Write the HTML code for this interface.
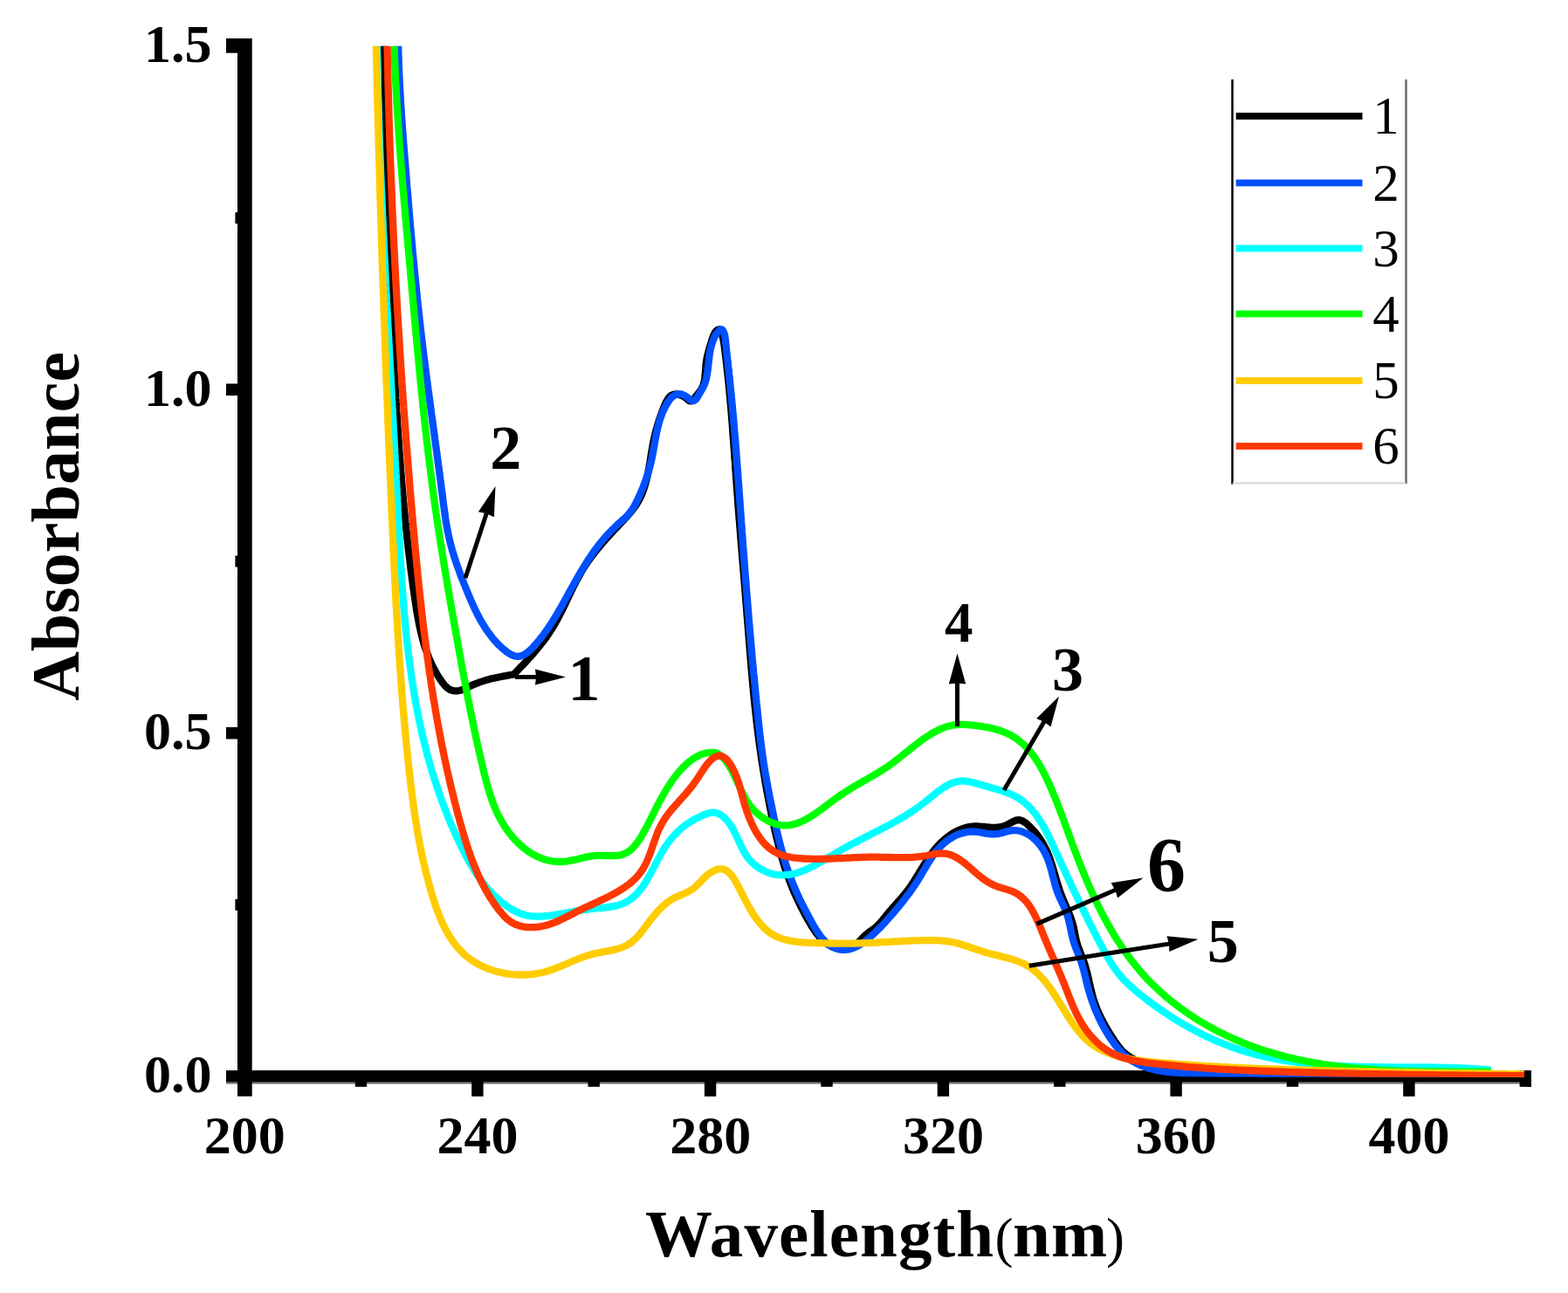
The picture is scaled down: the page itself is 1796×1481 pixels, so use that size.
<!DOCTYPE html>
<html><head><meta charset="utf-8"><title>Absorbance vs Wavelength</title>
<style>html,body{margin:0;padding:0;background:#fff;} svg{display:block;}</style>
</head><body>
<svg width="1796" height="1481" viewBox="0 0 1796 1481">
<defs><clipPath id="pc"><rect x="289" y="52.8" width="1470" height="1180.9"/></clipPath></defs>
<rect x="0" y="0" width="1796" height="1481" fill="#fff"/>
<rect x="259" y="1239.4" width="1487" height="2.1" fill="#766a78"/>
<rect x="272" y="44" width="16.7" height="1211.7" fill="#000"/>
<rect x="259" y="1226" width="1495" height="13.5" fill="#000"/>
<rect x="259" y="46.2" width="14" height="13.6" fill="#000"/>
<rect x="259" y="439.5" width="14" height="13.6" fill="#000"/>
<rect x="259" y="832.9" width="14" height="13.6" fill="#000"/>
<rect x="259" y="44" width="14" height="16.7" fill="#000"/>
<rect x="269.4" y="243.2" width="3" height="13" fill="#000"/>
<rect x="269.4" y="636.5" width="3" height="13" fill="#000"/>
<rect x="269.4" y="1029.8" width="3" height="13" fill="#000"/>
<rect x="540.2" y="1239" width="13.4" height="16.8" fill="#000"/>
<rect x="806.9" y="1239" width="13.4" height="16.8" fill="#000"/>
<rect x="1073.7" y="1239" width="13.4" height="16.8" fill="#000"/>
<rect x="1340.4" y="1239" width="13.4" height="16.8" fill="#000"/>
<rect x="1607.2" y="1239" width="13.4" height="16.8" fill="#000"/>
<rect x="406.8" y="1239" width="13.4" height="5.8" fill="#000"/>
<rect x="673.5" y="1239" width="13.4" height="5.8" fill="#000"/>
<rect x="940.3" y="1239" width="13.4" height="5.8" fill="#000"/>
<rect x="1207.1" y="1239" width="13.4" height="5.8" fill="#000"/>
<rect x="1473.8" y="1239" width="13.4" height="5.8" fill="#000"/>
<rect x="1740.6" y="1239" width="13.4" height="5.8" fill="#000"/>
<rect x="1746" y="1226" width="8" height="18.7" fill="#000"/>
<g clip-path="url(#pc)" fill="none" stroke-linejoin="round" stroke-linecap="butt">
<path d="M439.8,40.0L439.8,42.5L439.9,45.0L439.9,47.5L440.0,50.0L440.0,52.4L440.1,54.9L440.1,57.4L440.2,59.9L440.2,62.4L440.3,64.9L440.3,67.4L440.4,69.9L440.4,72.4L440.5,74.9L440.5,77.4L440.6,79.9L440.6,82.4L440.7,84.9L440.7,87.4L440.8,89.9L440.8,92.3L440.8,94.8L440.9,97.3L440.9,99.8L441.0,102.3L441.0,104.8L441.1,107.3L441.1,109.8L441.2,112.3L441.3,114.8L441.3,117.3L441.4,119.8L441.4,122.3L441.5,124.8L441.5,127.2L441.6,129.7L441.6,132.2L441.7,134.7L441.7,137.2L441.8,139.7L441.8,142.2L441.9,144.7L441.9,147.2L442.0,149.7L442.0,152.2L442.1,154.7L442.2,157.2L442.2,159.7L442.3,162.1L442.3,164.6L442.4,167.1L442.4,169.6L442.5,172.1L442.6,174.6L442.6,177.1L442.7,179.6L442.7,182.1L442.8,184.6L442.9,187.1L442.9,189.6L443.0,192.0L443.0,194.5L443.1,197.0L443.2,199.5L443.2,202.0L443.3,204.5L443.4,207.0L443.4,209.5L443.5,212.0L443.6,214.5L443.6,217.0L443.7,219.5L443.8,221.9L443.8,224.4L443.9,226.9L444.0,229.4L444.0,231.9L444.1,234.4L444.2,236.9L444.2,239.4L444.3,241.9L444.4,244.4L444.5,246.9L444.5,249.4L444.6,251.8L444.7,254.3L444.8,256.8L444.8,259.3L444.9,261.8L445.0,264.3L445.1,266.8L445.1,269.3L445.2,271.8L445.3,274.3L445.4,276.8L445.5,279.2L445.5,281.7L445.6,284.2L445.7,286.7L445.8,289.2L445.9,291.7L446.0,294.2L446.1,296.7L446.1,299.2L446.2,301.7L446.3,304.2L446.4,306.6L446.5,309.1L446.6,311.6L446.7,314.1L446.8,316.6L446.9,319.1L447.0,321.6L447.1,324.1L447.1,326.6L447.2,329.1L447.3,331.5L447.4,334.0L447.5,336.5L447.6,339.0L447.7,341.5L447.8,344.0L447.9,346.5L448.0,349.0L448.1,351.5L448.3,354.0L448.4,356.4L448.5,358.9L448.6,361.4L448.7,363.9L448.8,366.4L448.9,368.9L449.0,371.4L449.1,373.9L449.2,376.4L449.4,378.9L449.5,381.3L449.6,383.8L449.7,386.3L449.8,388.8L449.9,391.3L450.1,393.8L450.2,396.3L450.3,398.8L450.4,401.3L450.6,403.8L450.7,406.2L450.8,408.7L450.9,411.2L451.1,413.7L451.2,416.2L451.3,418.7L451.5,421.2L451.6,423.7L451.7,426.2L451.9,428.7L452.0,431.1L452.1,433.6L452.3,436.1L452.4,438.6L452.5,441.1L452.7,443.6L452.8,446.1L453.0,448.6L453.1,451.1L453.3,453.5L453.4,456.0L453.6,458.5L453.7,461.0L453.9,463.5L454.0,466.0L454.2,468.5L454.3,471.0L454.5,473.5L454.6,475.9L454.8,478.4L455.0,480.9L455.1,483.4L455.3,485.9L455.4,488.4L455.6,490.9L455.8,493.4L455.9,495.9L456.1,498.4L456.3,500.8L456.5,503.3L456.6,505.8L456.8,508.3L457.0,510.8L457.2,513.3L457.3,515.8L457.5,518.3L457.7,520.7L457.9,523.2L458.1,525.7L458.3,528.2L458.5,530.7L458.7,533.2L458.9,535.7L459.1,538.2L459.2,540.6L459.5,543.1L459.7,545.6L459.9,548.1L460.1,550.6L460.3,553.1L460.5,555.6L460.7,558.0L460.9,560.5L461.1,563.0L461.4,565.5L461.6,568.0L461.8,570.5L462.0,572.9L462.3,575.4L462.5,577.9L462.7,580.4L463.0,582.9L463.2,585.3L463.4,587.8L463.7,590.3L463.9,592.8L464.2,595.3L464.4,597.7L464.7,600.2L464.9,602.7L465.2,605.2L465.5,607.7L465.7,610.1L466.0,612.6L466.2,615.1L466.5,617.6L466.8,620.0L467.1,622.5L467.4,625.0L467.6,627.5L467.9,629.9L468.2,632.4L468.5,634.9L468.8,637.4L469.1,639.8L469.4,642.3L469.7,644.8L470.0,647.3L470.3,649.7L470.6,652.2L470.9,654.7L471.3,657.1L471.6,659.6L471.9,662.1L472.2,664.5L472.6,667.0L472.9,669.5L473.2,671.9L473.6,674.4L473.9,676.9L474.3,679.3L474.6,681.8L475.0,684.2L475.3,686.7L475.7,689.2L476.1,691.6L476.4,694.1L476.8,696.5L477.2,699.0L477.6,701.5L478.0,703.9L478.5,706.4L478.9,708.8L479.4,711.2L479.8,713.7L480.3,716.1L480.8,718.5L481.4,721.0L481.9,723.4L482.5,725.8L483.1,728.2L483.7,730.6L484.4,733.0L485.0,735.4L485.7,737.8L486.5,740.2L487.2,742.6L488.1,744.9L488.9,747.3L489.8,749.6L490.7,752.0L491.6,754.3L492.6,756.6L493.6,758.9L494.7,761.3L495.8,763.5L497.0,765.8L498.2,768.1L499.4,770.3L500.7,772.5L502.0,774.7L503.4,776.8L504.8,778.9L506.3,781.0L507.8,783.0L509.4,785.0L511.1,786.8L512.9,788.3L514.8,789.6L516.8,790.5L519.0,791.1L521.2,791.4L523.5,791.3L525.8,791.0L528.2,790.5L530.6,789.6L533.0,788.6L535.3,787.5L537.7,786.3L540.0,785.2L542.4,784.2L544.7,783.2L547.1,782.3L549.4,781.4L551.8,780.6L554.1,779.9L556.5,779.1L558.8,778.5L561.2,777.8L563.5,777.2L565.9,776.7L568.3,776.2L570.7,775.7L573.1,775.2L575.6,774.7L578.0,774.3L580.5,773.9L583.0,773.4L585.5,773.0L588.0,772.6L588.2,772.6L589.9,770.9L591.7,769.1L593.4,767.3L595.1,765.5L596.8,763.7L598.6,761.9L600.3,760.1L602.0,758.3L603.7,756.5L605.4,754.6L607.0,752.8L608.7,750.9L610.4,749.0L612.0,747.1L613.6,745.2L615.2,743.3L616.8,741.4L618.4,739.4L619.9,737.5L621.5,735.5L623.0,733.5L624.5,731.5L625.9,729.5L627.4,727.4L628.8,725.4L630.1,723.3L631.5,721.2L632.8,719.1L634.1,716.9L635.4,714.8L636.6,712.6L637.8,710.4L639.0,708.2L640.2,706.0L641.3,703.8L642.5,701.6L643.6,699.4L644.7,697.1L645.8,694.9L646.9,692.6L648.0,690.4L649.0,688.1L650.1,685.8L651.2,683.6L652.3,681.3L653.4,679.1L654.4,676.8L655.5,674.6L656.6,672.3L657.8,670.1L658.9,667.8L660.0,665.6L661.2,663.4L662.4,661.2L663.6,659.1L664.8,656.9L666.0,654.7L667.3,652.6L668.6,650.5L670.0,648.4L671.3,646.3L672.7,644.3L674.1,642.2L675.6,640.2L677.0,638.2L678.5,636.2L680.0,634.2L681.5,632.3L683.1,630.3L684.7,628.4L686.3,626.5L687.9,624.6L689.5,622.6L691.1,620.8L692.8,618.9L694.4,617.0L696.1,615.1L697.8,613.3L699.5,611.4L701.2,609.6L702.9,607.7L704.6,605.9L706.3,604.1L708.1,602.3L709.8,600.4L711.5,598.6L713.3,596.8L715.0,595.0L716.7,593.1L718.4,591.3L720.0,589.4L721.6,587.5L723.2,585.6L724.7,583.7L726.2,581.7L727.7,579.7L729.0,577.7L730.3,575.6L731.5,573.5L732.7,571.4L733.8,569.2L734.8,566.9L735.7,564.7L736.6,562.4L737.4,560.0L738.2,557.7L738.9,555.3L739.6,552.9L740.3,550.4L740.9,548.0L741.4,545.5L742.0,543.0L742.5,540.5L742.9,538.0L743.4,535.5L743.8,533.0L744.3,530.5L744.7,528.0L745.1,525.4L745.5,522.9L745.9,520.4L746.3,517.9L746.7,515.5L747.2,513.0L747.6,510.6L748.0,508.1L748.5,505.7L749.0,503.3L749.5,501.0L750.1,498.6L750.6,496.2L751.2,493.9L751.9,491.5L752.5,489.2L753.2,486.9L753.9,484.5L754.7,482.2L755.4,479.8L756.3,477.4L757.1,475.0L758.0,472.6L758.9,470.2L759.9,467.7L760.9,465.2L762.0,462.7L763.1,460.3L764.4,458.0L765.8,455.9L767.4,454.1L769.3,452.7L771.4,451.8L773.8,451.5L776.4,451.6L779.0,452.3L781.6,453.3L784.1,454.7L786.3,456.3L788.2,458.0L790.0,459.2L791.7,459.4L793.4,458.4L795.2,456.6L796.9,454.4L798.6,452.1L800.2,450.0L801.8,448.1L803.2,446.1L804.3,444.0L805.3,441.8L806.0,439.5L806.6,437.1L807.1,434.6L807.4,432.1L807.7,429.5L807.9,426.9L808.1,424.3L808.3,421.7L808.4,419.2L808.7,416.7L809.0,414.3L809.4,411.9L809.8,409.6L810.3,407.3L810.9,405.0L811.5,402.7L812.2,400.3L812.9,397.9L813.6,395.5L814.4,392.9L815.2,390.2L816.1,387.5L817.0,384.9L818.1,382.5L819.3,380.4L820.8,378.7L822.5,377.6L824.2,377.4L825.5,378.4L826.4,380.4L827.1,382.8L827.7,385.3L828.2,387.7L828.7,390.2L829.1,392.7L829.5,395.1L829.8,397.6L830.1,400.1L830.5,402.6L830.8,405.1L831.1,407.6L831.4,410.1L831.7,412.5L832.0,415.0L832.3,417.5L832.5,420.0L832.8,422.5L833.1,425.0L833.4,427.5L833.6,430.0L833.9,432.4L834.2,434.9L834.4,437.4L834.7,439.9L834.9,442.4L835.1,444.9L835.4,447.4L835.6,449.9L835.8,452.3L836.1,454.8L836.3,457.3L836.5,459.8L836.7,462.3L837.0,464.8L837.2,467.3L837.4,469.8L837.6,472.3L837.8,474.7L838.0,477.2L838.2,479.7L838.4,482.2L838.6,484.7L838.8,487.2L839.0,489.7L839.2,492.2L839.3,494.6L839.5,497.1L839.7,499.6L839.9,502.1L840.1,504.6L840.3,507.1L840.5,509.6L840.6,512.1L840.8,514.6L841.0,517.0L841.2,519.5L841.3,522.0L841.5,524.5L841.7,527.0L841.9,529.5L842.1,532.0L842.2,534.5L842.4,537.0L842.6,539.4L842.8,541.9L842.9,544.4L843.1,546.9L843.3,549.4L843.5,551.9L843.7,554.4L843.8,556.9L844.0,559.4L844.2,561.9L844.4,564.3L844.6,566.8L844.8,569.3L845.0,571.8L845.2,574.3L845.3,576.8L845.5,579.3L845.7,581.8L845.9,584.3L846.1,586.7L846.3,589.2L846.5,591.7L846.7,594.2L846.9,596.7L847.1,599.2L847.3,601.7L847.5,604.2L847.7,606.7L847.9,609.2L848.1,611.6L848.3,614.1L848.5,616.6L848.7,619.1L848.9,621.6L849.1,624.1L849.3,626.6L849.5,629.1L849.7,631.6L849.9,634.1L850.1,636.5L850.3,639.0L850.5,641.5L850.7,644.0L850.9,646.5L851.1,649.0L851.3,651.5L851.6,654.0L851.8,656.5L852.0,658.9L852.2,661.4L852.4,663.9L852.6,666.4L852.8,668.9L853.0,671.4L853.2,673.9L853.4,676.4L853.6,678.9L853.8,681.4L854.0,683.8L854.2,686.3L854.4,688.8L854.6,691.3L854.8,693.8L855.0,696.3L855.2,698.8L855.4,701.3L855.6,703.8L855.8,706.3L856.0,708.7L856.2,711.2L856.4,713.7L856.6,716.2L856.8,718.7L857.0,721.2L857.2,723.7L857.4,726.2L857.6,728.7L857.8,731.2L858.0,733.6L858.2,736.1L858.4,738.6L858.6,741.1L858.8,743.6L859.0,746.1L859.2,748.6L859.4,751.1L859.6,753.6L859.8,756.0L860.0,758.5L860.2,761.0L860.4,763.5L860.6,766.0L860.9,768.5L861.1,771.0L861.3,773.5L861.5,775.9L861.7,778.4L862.0,780.9L862.2,783.4L862.4,785.9L862.7,788.4L862.9,790.9L863.1,793.3L863.4,795.8L863.6,798.3L863.9,800.8L864.1,803.3L864.4,805.8L864.6,808.2L864.9,810.7L865.2,813.2L865.4,815.7L865.7,818.2L866.0,820.6L866.3,823.1L866.5,825.6L866.8,828.1L867.1,830.6L867.4,833.0L867.7,835.5L868.0,838.0L868.3,840.5L868.6,842.9L869.0,845.4L869.3,847.9L869.6,850.4L869.9,852.8L870.3,855.3L870.6,857.8L871.0,860.3L871.3,862.7L871.7,865.2L872.0,867.7L872.4,870.2L872.8,872.6L873.2,875.1L873.6,877.6L873.9,880.0L874.3,882.5L874.8,885.0L875.2,887.4L875.6,889.9L876.0,892.4L876.4,894.8L876.8,897.3L877.3,899.7L877.7,902.2L878.2,904.7L878.6,907.1L879.1,909.6L879.5,912.0L880.0,914.5L880.5,916.9L881.0,919.4L881.4,921.9L881.9,924.3L882.4,926.8L882.9,929.2L883.4,931.6L883.9,934.1L884.4,936.5L884.9,939.0L885.5,941.4L886.0,943.9L886.5,946.3L887.1,948.7L887.6,951.2L888.1,953.6L888.7,956.0L889.3,958.5L889.9,960.9L890.5,963.3L891.1,965.7L891.7,968.1L892.3,970.5L892.9,973.0L893.6,975.4L894.2,977.8L894.9,980.2L895.6,982.6L896.3,984.9L897.0,987.3L897.7,989.7L898.5,992.1L899.3,994.5L900.0,996.8L900.8,999.2L901.7,1001.5L902.5,1003.9L903.4,1006.2L904.2,1008.6L905.1,1010.9L906.1,1013.2L907.0,1015.6L907.9,1017.9L908.9,1020.2L909.9,1022.5L910.9,1024.8L912.0,1027.1L913.0,1029.4L914.1,1031.6L915.2,1033.9L916.3,1036.1L917.4,1038.4L918.5,1040.6L919.7,1042.8L920.9,1045.1L922.0,1047.3L923.2,1049.5L924.4,1051.6L925.6,1053.8L926.9,1055.9L928.1,1058.1L929.4,1060.2L930.7,1062.3L932.0,1064.4L933.4,1066.4L934.8,1068.5L936.4,1070.4L938.0,1072.4L939.6,1074.3L941.4,1076.1L943.2,1077.8L945.2,1079.4L947.2,1080.9L949.3,1082.2L951.5,1083.5L953.7,1084.5L956.1,1085.4L958.6,1086.0L961.1,1086.5L963.6,1086.8L966.2,1086.8L968.7,1086.6L971.1,1086.2L973.5,1085.6L975.8,1084.7L978.0,1083.6L980.0,1082.2L981.9,1080.6L983.7,1078.9L985.4,1077.1L987.1,1075.2L988.9,1073.4L990.7,1071.6L992.6,1070.0L994.6,1068.4L996.6,1066.9L998.6,1065.5L1000.6,1064.0L1002.6,1062.5L1004.4,1060.9L1006.2,1059.1L1007.9,1057.3L1009.5,1055.5L1011.1,1053.6L1012.7,1051.6L1014.3,1049.7L1015.8,1047.7L1017.4,1045.8L1019.0,1043.8L1020.7,1041.9L1022.3,1040.1L1024.0,1038.2L1025.7,1036.3L1027.4,1034.4L1029.0,1032.5L1030.7,1030.7L1032.3,1028.8L1033.9,1026.9L1035.6,1024.9L1037.1,1023.0L1038.7,1021.1L1040.2,1019.1L1041.7,1017.1L1043.1,1015.1L1044.5,1013.0L1045.9,1010.9L1047.2,1008.9L1048.5,1006.8L1049.8,1004.7L1051.1,1002.5L1052.4,1000.4L1053.7,998.3L1055.0,996.2L1056.3,994.1L1057.6,992.0L1058.9,989.8L1060.2,987.8L1061.6,985.7L1062.9,983.6L1064.3,981.6L1065.7,979.5L1067.2,977.5L1068.7,975.5L1070.2,973.6L1071.8,971.7L1073.4,969.8L1075.1,967.9L1076.9,966.1L1078.7,964.3L1080.6,962.6L1082.5,961.0L1084.5,959.3L1086.5,957.8L1088.6,956.3L1090.7,954.9L1092.9,953.6L1095.1,952.4L1097.4,951.3L1099.7,950.3L1102.0,949.4L1104.4,948.6L1106.8,947.9L1109.2,947.3L1111.7,946.9L1114.1,946.6L1116.6,946.5L1119.1,946.5L1121.6,946.6L1124.2,946.8L1126.7,947.0L1129.2,947.2L1131.7,947.5L1134.3,947.7L1136.8,947.8L1139.3,947.8L1141.7,947.7L1144.2,947.5L1146.6,947.1L1149.0,946.5L1151.4,945.7L1153.7,944.7L1156.0,943.4L1158.3,942.2L1160.5,941.0L1162.7,940.0L1164.9,939.3L1167.1,939.1L1169.2,939.5L1171.3,940.4L1173.4,941.7L1175.5,943.2L1177.5,944.9L1179.4,946.7L1181.2,948.6L1183.0,950.4L1184.7,952.3L1186.4,954.3L1187.9,956.3L1189.4,958.3L1190.9,960.3L1192.2,962.4L1193.6,964.5L1194.8,966.6L1196.0,968.8L1197.1,971.0L1198.2,973.2L1199.3,975.4L1200.3,977.7L1201.2,980.0L1202.1,982.3L1202.9,984.6L1203.7,987.0L1204.5,989.3L1205.3,991.7L1206.0,994.1L1206.7,996.5L1207.4,998.9L1208.1,1001.3L1208.8,1003.7L1209.5,1006.1L1210.2,1008.6L1210.9,1011.0L1211.7,1013.4L1212.4,1015.8L1213.2,1018.2L1214.0,1020.5L1214.8,1022.9L1215.7,1025.3L1216.6,1027.6L1217.5,1029.9L1218.5,1032.2L1219.5,1034.5L1220.5,1036.8L1221.5,1039.1L1222.5,1041.4L1223.4,1043.7L1224.4,1046.0L1225.3,1048.3L1226.2,1050.6L1227.0,1053.0L1227.8,1055.3L1228.5,1057.7L1229.2,1060.1L1229.7,1062.5L1230.3,1065.0L1230.7,1067.4L1231.2,1069.9L1231.7,1072.4L1232.2,1074.8L1232.8,1077.3L1233.4,1079.7L1234.1,1082.1L1234.9,1084.5L1235.8,1086.8L1236.7,1089.1L1237.6,1091.5L1238.5,1093.8L1239.5,1096.1L1240.4,1098.4L1241.2,1100.8L1242.0,1103.1L1242.8,1105.5L1243.5,1107.9L1244.1,1110.3L1244.8,1112.7L1245.4,1115.1L1246.0,1117.6L1246.5,1120.0L1247.1,1122.4L1247.6,1124.9L1248.2,1127.3L1248.7,1129.8L1249.3,1132.2L1249.9,1134.6L1250.5,1137.0L1251.1,1139.5L1251.7,1141.9L1252.4,1144.3L1253.2,1146.6L1254.0,1149.0L1254.8,1151.3L1255.7,1153.7L1256.6,1156.0L1257.6,1158.3L1258.6,1160.6L1259.7,1162.9L1260.7,1165.1L1261.9,1167.4L1263.0,1169.6L1264.2,1171.8L1265.4,1174.0L1266.6,1176.2L1267.9,1178.3L1269.2,1180.5L1270.5,1182.6L1271.8,1184.7L1273.1,1186.8L1274.5,1188.9L1275.8,1191.0L1277.2,1193.1L1278.6,1195.1L1280.0,1197.1L1281.5,1199.1L1283.0,1201.0L1284.6,1202.8L1286.3,1204.6L1288.1,1206.2L1290.1,1207.8L1292.1,1209.3L1294.2,1210.7L1296.4,1212.0L1298.7,1213.2L1300.9,1214.4L1303.2,1215.5L1305.6,1216.5L1307.9,1217.5L1310.2,1218.4L1312.6,1219.2L1314.9,1220.0L1317.3,1220.8L1319.7,1221.4L1322.1,1222.1L1324.5,1222.7L1326.9,1223.2L1329.3,1223.7L1331.8,1224.2L1334.2,1224.6L1336.7,1225.0L1339.1,1225.3L1341.6,1225.6L1344.0,1225.9L1346.5,1226.2L1349.0,1226.4L1351.5,1226.6L1354.0,1226.8L1356.4,1227.0L1358.9,1227.2L1361.4,1227.3L1363.9,1227.4L1366.4,1227.6L1368.9,1227.7L1371.4,1227.8L1373.9,1227.9L1376.4,1228.0L1378.9,1228.1L1381.4,1228.2L1383.9,1228.3L1386.4,1228.3L1388.9,1228.4L1391.4,1228.5L1393.9,1228.6L1396.4,1228.6L1398.9,1228.7L1401.4,1228.8L1403.9,1228.8L1406.4,1228.9L1408.9,1228.9L1411.4,1229.0L1413.9,1229.0L1416.4,1229.1L1418.9,1229.1L1421.4,1229.1L1423.9,1229.2L1426.4,1229.2L1428.9,1229.2L1431.4,1229.3L1433.8,1229.3L1436.3,1229.3L1438.8,1229.3L1441.3,1229.3L1443.8,1229.4L1446.3,1229.4L1448.8,1229.4L1451.3,1229.4L1453.8,1229.4L1456.3,1229.4L1458.8,1229.5L1461.3,1229.5L1463.8,1229.5L1466.3,1229.5L1468.8,1229.5L1471.3,1229.5L1473.8,1229.5L1476.3,1229.5L1478.8,1229.5L1481.3,1229.5L1483.8,1229.5L1486.3,1229.5L1488.8,1229.5L1491.3,1229.5L1493.8,1229.6L1496.3,1229.6L1498.8,1229.6L1501.3,1229.6L1503.8,1229.6L1506.3,1229.6L1508.8,1229.6L1511.3,1229.6L1513.8,1229.6L1516.3,1229.6L1518.8,1229.7L1521.2,1229.7L1523.7,1229.7L1526.2,1229.7L1528.7,1229.7L1531.2,1229.7L1533.7,1229.7L1536.2,1229.7L1538.7,1229.8L1541.2,1229.8L1543.7,1229.8L1546.2,1229.8L1548.7,1229.8L1551.2,1229.8L1553.7,1229.8L1556.2,1229.9L1558.7,1229.9L1561.2,1229.9L1563.7,1229.9L1566.2,1229.9L1568.7,1229.9L1571.2,1229.9L1573.7,1230.0L1576.2,1230.0L1578.7,1230.0L1581.2,1230.0L1583.7,1230.0L1586.2,1230.0L1588.7,1230.1L1591.2,1230.1L1593.7,1230.1L1596.2,1230.1L1598.7,1230.1L1601.2,1230.1L1603.7,1230.2L1606.2,1230.2L1608.7,1230.2L1611.1,1230.2L1613.6,1230.2L1616.1,1230.2L1618.6,1230.3L1621.1,1230.3L1623.6,1230.3L1626.1,1230.3L1628.6,1230.3L1631.1,1230.3L1633.6,1230.4L1636.1,1230.4L1638.6,1230.4L1641.1,1230.4L1643.6,1230.4L1646.1,1230.4L1648.6,1230.5L1651.1,1230.5L1653.6,1230.5L1656.1,1230.5L1658.6,1230.5L1661.1,1230.5L1663.6,1230.6L1666.1,1230.6L1668.6,1230.6L1671.1,1230.6L1673.6,1230.6L1676.1,1230.6L1678.6,1230.6L1681.1,1230.7L1683.6,1230.7L1686.1,1230.7L1688.6,1230.7L1691.1,1230.7L1693.6,1230.7L1696.1,1230.7L1698.6,1230.8L1701.1,1230.8L1703.5,1230.8L1706.0,1230.8L1708.5,1230.8L1711.0,1230.8L1713.5,1230.8L1716.0,1230.8L1718.5,1230.9L1721.0,1230.9L1723.5,1230.9L1726.0,1230.9L1728.5,1230.9L1731.0,1230.9L1733.5,1230.9L1736.0,1230.9L1738.5,1230.9L1741.0,1230.9L1743.5,1230.9L1746.0,1230.9" stroke="#000000" stroke-width="8.3"/>
<path d="M455.9,40.0L455.9,42.5L456.0,45.0L456.0,47.5L456.1,50.0L456.1,52.5L456.2,55.0L456.3,57.5L456.3,60.0L456.4,62.5L456.5,65.0L456.6,67.5L456.6,70.0L456.7,72.5L456.8,75.0L456.9,77.5L457.0,80.0L457.1,82.5L457.2,84.9L457.4,87.4L457.5,89.9L457.6,92.4L457.7,94.9L457.9,97.4L458.0,99.9L458.1,102.4L458.3,104.9L458.4,107.4L458.5,109.9L458.7,112.4L458.8,114.9L459.0,117.4L459.1,119.9L459.3,122.4L459.5,124.9L459.6,127.3L459.8,129.8L459.9,132.3L460.1,134.8L460.3,137.3L460.5,139.8L460.6,142.3L460.8,144.8L461.0,147.3L461.2,149.8L461.4,152.3L461.5,154.8L461.7,157.3L461.9,159.7L462.1,162.2L462.3,164.7L462.5,167.2L462.7,169.7L462.9,172.2L463.1,174.7L463.3,177.2L463.5,179.7L463.7,182.2L463.9,184.7L464.1,187.1L464.3,189.6L464.5,192.1L464.7,194.6L464.9,197.1L465.1,199.6L465.3,202.1L465.5,204.6L465.7,207.1L465.9,209.6L466.1,212.1L466.3,214.5L466.5,217.0L466.8,219.5L467.0,222.0L467.2,224.5L467.4,227.0L467.6,229.5L467.8,232.0L468.0,234.5L468.2,237.0L468.4,239.4L468.6,241.9L468.9,244.4L469.1,246.9L469.3,249.4L469.5,251.9L469.7,254.4L469.9,256.9L470.1,259.4L470.4,261.8L470.6,264.3L470.8,266.8L471.0,269.3L471.2,271.8L471.5,274.3L471.7,276.8L471.9,279.3L472.1,281.8L472.4,284.2L472.6,286.7L472.8,289.2L473.1,291.7L473.3,294.2L473.5,296.7L473.8,299.2L474.0,301.7L474.2,304.1L474.5,306.6L474.7,309.1L474.9,311.6L475.2,314.1L475.4,316.6L475.7,319.1L475.9,321.5L476.2,324.0L476.4,326.5L476.7,329.0L476.9,331.5L477.2,334.0L477.4,336.5L477.7,338.9L477.9,341.4L478.2,343.9L478.5,346.4L478.7,348.9L479.0,351.4L479.3,353.8L479.5,356.3L479.8,358.8L480.1,361.3L480.3,363.8L480.6,366.3L480.9,368.7L481.2,371.2L481.5,373.7L481.7,376.2L482.0,378.7L482.3,381.2L482.6,383.6L482.9,386.1L483.2,388.6L483.5,391.1L483.8,393.6L484.1,396.0L484.4,398.5L484.7,401.0L485.0,403.5L485.3,406.0L485.6,408.4L485.9,410.9L486.2,413.4L486.6,415.9L486.9,418.4L487.2,420.8L487.5,423.3L487.8,425.8L488.1,428.3L488.5,430.7L488.8,433.2L489.1,435.7L489.4,438.2L489.8,440.7L490.1,443.1L490.4,445.6L490.8,448.1L491.1,450.6L491.4,453.0L491.7,455.5L492.1,458.0L492.4,460.5L492.7,463.0L493.1,465.4L493.4,467.9L493.8,470.4L494.1,472.9L494.4,475.3L494.8,477.8L495.1,480.3L495.4,482.8L495.8,485.2L496.1,487.7L496.4,490.2L496.8,492.7L497.1,495.1L497.5,497.6L497.8,500.1L498.1,502.6L498.5,505.0L498.8,507.5L499.1,510.0L499.5,512.5L499.8,515.0L500.1,517.4L500.5,519.9L500.8,522.4L501.1,524.9L501.5,527.3L501.8,529.8L502.1,532.3L502.5,534.8L502.8,537.2L503.1,539.7L503.5,542.2L503.8,544.7L504.1,547.1L504.4,549.6L504.8,552.1L505.1,554.6L505.4,557.0L505.7,559.5L506.0,562.0L506.4,564.5L506.7,567.0L507.0,569.4L507.3,571.9L507.6,574.4L507.9,576.9L508.3,579.3L508.6,581.8L508.9,584.3L509.3,586.7L509.6,589.2L510.0,591.7L510.3,594.1L510.7,596.6L511.1,599.1L511.5,601.5L512.0,604.0L512.4,606.4L512.9,608.9L513.4,611.3L513.9,613.8L514.4,616.2L515.0,618.6L515.6,621.0L516.2,623.5L516.8,625.9L517.5,628.3L518.1,630.7L518.9,633.1L519.6,635.5L520.3,637.9L521.1,640.3L521.9,642.6L522.7,645.0L523.5,647.4L524.3,649.8L525.2,652.1L526.1,654.5L526.9,656.8L527.8,659.2L528.7,661.5L529.6,663.9L530.6,666.2L531.5,668.6L532.4,670.9L533.4,673.2L534.3,675.5L535.3,677.8L536.2,680.2L537.2,682.5L538.2,684.8L539.1,687.1L540.1,689.4L541.2,691.6L542.2,693.9L543.2,696.2L544.3,698.4L545.4,700.6L546.5,702.9L547.6,705.1L548.8,707.2L549.9,709.4L551.2,711.6L552.4,713.7L553.7,715.8L555.0,717.9L556.3,720.0L557.7,722.1L559.1,724.1L560.6,726.1L562.1,728.1L563.6,730.1L565.2,732.0L566.9,733.9L568.6,735.8L570.3,737.7L572.1,739.5L574.0,741.2L575.9,743.0L577.9,744.6L580.0,746.3L582.1,747.8L584.3,749.1L586.5,750.3L588.7,751.2L591.0,751.7L593.2,751.9L595.4,751.7L597.6,751.1L599.7,750.2L601.8,749.0L603.9,747.5L605.9,745.8L607.9,744.0L609.8,742.1L611.7,740.1L613.5,738.1L615.2,736.0L616.8,734.1L618.5,732.1L620.0,730.1L621.5,728.2L623.0,726.2L624.4,724.3L625.8,722.3L627.2,720.3L628.6,718.3L629.9,716.3L631.3,714.2L632.6,712.2L633.9,710.1L635.2,708.0L636.5,705.9L637.8,703.8L639.0,701.6L640.3,699.5L641.5,697.3L642.8,695.2L644.0,693.0L645.2,690.8L646.4,688.6L647.7,686.4L648.9,684.2L650.1,682.0L651.3,679.8L652.5,677.6L653.7,675.4L655.0,673.2L656.2,671.0L657.4,668.8L658.6,666.6L659.9,664.4L661.1,662.2L662.4,660.0L663.6,657.8L664.9,655.6L666.2,653.5L667.5,651.3L668.8,649.2L670.1,647.1L671.4,645.0L672.8,642.9L674.1,640.8L675.5,638.7L676.9,636.6L678.3,634.6L679.7,632.6L681.2,630.5L682.6,628.5L684.1,626.6L685.6,624.6L687.2,622.6L688.7,620.7L690.3,618.8L691.9,616.9L693.5,615.0L695.2,613.2L696.9,611.3L698.6,609.5L700.3,607.7L702.1,605.9L703.9,604.2L705.7,602.4L707.5,600.7L709.4,599.0L711.3,597.3L713.2,595.6L715.1,593.9L716.9,592.2L718.7,590.4L720.4,588.6L721.9,586.7L723.4,584.7L724.8,582.6L726.1,580.5L727.3,578.3L728.4,576.1L729.5,573.9L730.6,571.6L731.7,569.3L732.7,567.1L733.7,564.8L734.7,562.5L735.7,560.2L736.6,557.9L737.5,555.5L738.4,553.2L739.3,550.8L740.1,548.5L740.9,546.1L741.7,543.7L742.4,541.4L743.1,539.0L743.8,536.6L744.5,534.2L745.1,531.7L745.7,529.3L746.2,526.9L746.8,524.4L747.2,522.0L747.7,519.5L748.2,517.1L748.6,514.6L749.1,512.1L749.5,509.7L749.9,507.2L750.4,504.7L750.8,502.3L751.3,499.8L751.7,497.4L752.3,494.9L752.8,492.5L753.3,490.0L754.0,487.6L754.6,485.2L755.3,482.8L756.0,480.4L756.8,478.0L757.7,475.6L758.6,473.2L759.6,470.9L760.7,468.6L761.8,466.3L763.1,464.0L764.4,461.7L765.8,459.6L767.3,457.6L768.9,455.7L770.6,454.2L772.4,452.9L774.3,451.9L776.4,451.4L778.5,451.3L780.8,451.7L783.2,452.6L785.7,454.1L788.3,456.1L790.8,458.0L793.2,459.1L795.3,458.8L797.1,457.3L798.6,455.1L800.1,452.6L801.5,450.2L802.9,447.9L804.2,445.7L805.3,443.6L806.4,441.4L807.3,439.2L808.0,436.9L808.7,434.7L809.3,432.3L809.7,430.0L810.1,427.6L810.5,425.2L810.8,422.8L811.1,420.4L811.3,417.9L811.6,415.4L811.9,412.9L812.2,410.4L812.5,407.8L812.8,405.3L813.3,402.7L813.8,400.1L814.4,397.5L815.1,395.0L815.9,392.4L816.8,390.0L817.7,387.6L818.8,385.4L820.0,383.3L821.4,381.3L822.8,379.6L824.3,378.1L825.9,377.2L827.4,377.7L828.6,379.6L829.5,382.0L830.2,384.6L830.6,387.2L830.9,389.8L831.2,392.4L831.5,394.9L831.7,397.5L832.0,400.0L832.3,402.6L832.6,405.1L832.8,407.5L833.1,410.0L833.4,412.5L833.7,415.0L834.0,417.5L834.2,419.9L834.5,422.4L834.8,424.9L835.0,427.4L835.3,429.8L835.6,432.3L835.8,434.8L836.1,437.3L836.3,439.7L836.6,442.2L836.8,444.7L837.1,447.2L837.3,449.7L837.6,452.1L837.8,454.6L838.0,457.1L838.3,459.6L838.5,462.1L838.7,464.5L839.0,467.0L839.2,469.5L839.4,472.0L839.6,474.5L839.9,477.0L840.1,479.4L840.3,481.9L840.5,484.4L840.7,486.9L840.9,489.4L841.1,491.9L841.3,494.4L841.6,496.9L841.8,499.3L842.0,501.8L842.2,504.3L842.4,506.8L842.6,509.3L842.8,511.8L843.0,514.3L843.2,516.8L843.3,519.3L843.5,521.7L843.7,524.2L843.9,526.7L844.1,529.2L844.3,531.7L844.5,534.2L844.7,536.7L844.9,539.2L845.1,541.7L845.2,544.2L845.4,546.7L845.6,549.2L845.8,551.7L846.0,554.1L846.2,556.6L846.3,559.1L846.5,561.6L846.7,564.1L846.9,566.6L847.1,569.1L847.2,571.6L847.4,574.1L847.6,576.6L847.8,579.1L848.0,581.6L848.1,584.1L848.3,586.6L848.5,589.1L848.7,591.6L848.9,594.0L849.0,596.5L849.2,599.0L849.4,601.5L849.6,604.0L849.8,606.5L849.9,609.0L850.1,611.5L850.3,614.0L850.5,616.5L850.7,619.0L850.9,621.5L851.0,624.0L851.2,626.5L851.4,629.0L851.6,631.4L851.8,633.9L852.0,636.4L852.2,638.9L852.4,641.4L852.5,643.9L852.7,646.4L852.9,648.9L853.1,651.4L853.3,653.9L853.5,656.4L853.7,658.9L853.9,661.3L854.1,663.8L854.3,666.3L854.5,668.8L854.7,671.3L854.9,673.8L855.1,676.3L855.3,678.8L855.5,681.3L855.7,683.8L855.9,686.3L856.1,688.7L856.3,691.2L856.5,693.7L856.7,696.2L856.9,698.7L857.1,701.2L857.3,703.7L857.5,706.2L857.7,708.7L857.9,711.1L858.1,713.6L858.4,716.1L858.6,718.6L858.8,721.1L859.0,723.6L859.2,726.1L859.4,728.6L859.6,731.1L859.9,733.5L860.1,736.0L860.3,738.5L860.5,741.0L860.7,743.5L861.0,746.0L861.2,748.5L861.4,751.0L861.6,753.4L861.9,755.9L862.1,758.4L862.3,760.9L862.6,763.4L862.8,765.9L863.0,768.4L863.2,770.9L863.5,773.3L863.7,775.8L864.0,778.3L864.2,780.8L864.4,783.3L864.7,785.8L864.9,788.3L865.2,790.7L865.4,793.2L865.6,795.7L865.9,798.2L866.1,800.7L866.4,803.2L866.6,805.7L866.9,808.1L867.1,810.6L867.4,813.1L867.6,815.6L867.9,818.1L868.1,820.6L868.4,823.0L868.7,825.5L868.9,828.0L869.2,830.5L869.5,833.0L869.7,835.5L870.0,837.9L870.3,840.4L870.6,842.9L870.9,845.4L871.2,847.9L871.5,850.3L871.8,852.8L872.1,855.3L872.4,857.8L872.8,860.3L873.1,862.7L873.4,865.2L873.8,867.7L874.2,870.1L874.5,872.6L874.9,875.1L875.3,877.6L875.7,880.0L876.1,882.5L876.5,885.0L877.0,887.4L877.4,889.9L877.8,892.4L878.3,894.8L878.7,897.3L879.2,899.7L879.6,902.2L880.1,904.7L880.6,907.1L881.1,909.6L881.5,912.0L882.0,914.5L882.5,916.9L883.0,919.4L883.5,921.8L884.0,924.3L884.5,926.7L885.0,929.2L885.5,931.6L886.0,934.1L886.5,936.5L887.0,939.0L887.5,941.4L888.0,943.9L888.6,946.3L889.1,948.7L889.7,951.2L890.2,953.6L890.8,956.0L891.4,958.4L892.0,960.9L892.6,963.3L893.2,965.7L893.8,968.1L894.4,970.5L895.1,972.9L895.8,975.3L896.4,977.7L897.1,980.1L897.8,982.5L898.5,984.9L899.3,987.2L900.0,989.6L900.8,992.0L901.6,994.4L902.4,996.7L903.2,999.1L904.1,1001.4L904.9,1003.8L905.8,1006.1L906.7,1008.4L907.6,1010.8L908.6,1013.1L909.5,1015.4L910.5,1017.7L911.5,1020.0L912.5,1022.3L913.6,1024.6L914.6,1026.9L915.7,1029.2L916.8,1031.4L917.9,1033.7L919.0,1036.0L920.2,1038.2L921.3,1040.4L922.5,1042.7L923.6,1044.9L924.8,1047.1L926.0,1049.3L927.1,1051.5L928.3,1053.6L929.5,1055.8L930.7,1058.0L931.9,1060.1L933.2,1062.2L934.4,1064.3L935.7,1066.4L937.1,1068.5L938.5,1070.5L940.0,1072.6L941.6,1074.5L943.3,1076.4L945.1,1078.3L946.9,1080.0L948.9,1081.6L950.9,1083.1L953.0,1084.4L955.3,1085.5L957.6,1086.4L960.0,1087.1L962.5,1087.6L965.0,1087.9L967.5,1087.9L970.0,1087.7L972.4,1087.3L974.8,1086.7L977.2,1085.9L979.5,1084.9L981.8,1083.8L984.0,1082.6L986.1,1081.3L988.2,1079.9L990.2,1078.5L992.2,1077.0L994.1,1075.4L996.0,1073.8L997.9,1072.2L999.8,1070.5L1001.6,1068.8L1003.4,1067.1L1005.2,1065.3L1007.0,1063.6L1008.7,1061.8L1010.4,1059.9L1012.2,1058.1L1013.9,1056.3L1015.5,1054.4L1017.2,1052.5L1018.9,1050.6L1020.5,1048.8L1022.2,1046.9L1023.8,1045.0L1025.4,1043.1L1027.0,1041.2L1028.6,1039.3L1030.2,1037.3L1031.8,1035.4L1033.3,1033.5L1034.9,1031.5L1036.4,1029.6L1037.9,1027.6L1039.4,1025.6L1040.9,1023.7L1042.4,1021.7L1043.8,1019.6L1045.2,1017.6L1046.6,1015.5L1048.0,1013.5L1049.4,1011.4L1050.8,1009.3L1052.1,1007.2L1053.4,1005.0L1054.7,1002.9L1055.9,1000.7L1057.2,998.5L1058.5,996.4L1059.8,994.2L1061.0,992.0L1062.3,989.9L1063.6,987.7L1065.0,985.6L1066.3,983.5L1067.7,981.5L1069.1,979.4L1070.6,977.4L1072.1,975.5L1073.7,973.6L1075.3,971.7L1077.0,969.9L1078.8,968.1L1080.6,966.4L1082.5,964.8L1084.5,963.2L1086.5,961.8L1088.6,960.4L1090.7,959.1L1093.0,957.9L1095.2,956.8L1097.5,955.8L1099.8,954.9L1102.2,954.2L1104.6,953.6L1107.0,953.1L1109.5,952.7L1112.0,952.5L1114.4,952.5L1116.9,952.6L1119.4,952.9L1121.9,953.2L1124.3,953.7L1126.8,954.1L1129.3,954.6L1131.8,955.0L1134.3,955.3L1136.8,955.4L1139.3,955.4L1141.8,955.2L1144.3,954.8L1146.9,954.2L1149.4,953.5L1151.9,952.8L1154.4,952.1L1156.9,951.6L1159.3,951.2L1161.8,951.1L1164.2,951.2L1166.6,951.5L1169.0,952.0L1171.3,952.7L1173.6,953.7L1175.8,954.7L1178.0,956.0L1180.1,957.3L1182.1,958.8L1184.1,960.4L1186.0,962.1L1187.7,963.9L1189.4,965.8L1191.0,967.8L1192.5,969.8L1194.0,971.9L1195.3,974.0L1196.5,976.2L1197.6,978.4L1198.7,980.7L1199.7,982.9L1200.6,985.2L1201.4,987.6L1202.2,989.9L1202.9,992.3L1203.6,994.7L1204.3,997.1L1204.9,999.5L1205.5,1002.0L1206.1,1004.4L1206.8,1006.8L1207.4,1009.2L1208.1,1011.7L1208.7,1014.1L1209.4,1016.5L1210.2,1018.9L1211.0,1021.2L1211.9,1023.6L1212.8,1025.9L1213.8,1028.2L1214.9,1030.5L1215.9,1032.7L1217.0,1035.0L1218.1,1037.3L1219.1,1039.6L1220.1,1041.9L1221.1,1044.2L1221.9,1046.5L1222.7,1048.9L1223.4,1051.3L1224.0,1053.7L1224.6,1056.1L1225.1,1058.6L1225.7,1061.0L1226.2,1063.5L1226.7,1065.9L1227.2,1068.4L1227.7,1070.8L1228.3,1073.3L1228.9,1075.7L1229.6,1078.1L1230.3,1080.5L1231.1,1082.8L1232.0,1085.2L1232.9,1087.5L1233.8,1089.8L1234.8,1092.1L1235.7,1094.4L1236.6,1096.7L1237.5,1099.1L1238.3,1101.4L1239.1,1103.8L1239.8,1106.2L1240.5,1108.6L1241.2,1111.0L1241.8,1113.4L1242.4,1115.8L1243.0,1118.3L1243.6,1120.7L1244.1,1123.2L1244.7,1125.6L1245.3,1128.0L1246.0,1130.4L1246.6,1132.9L1247.3,1135.3L1248.0,1137.7L1248.7,1140.0L1249.5,1142.4L1250.3,1144.8L1251.1,1147.2L1251.9,1149.5L1252.8,1151.8L1253.7,1154.2L1254.6,1156.5L1255.6,1158.8L1256.6,1161.1L1257.6,1163.3L1258.6,1165.6L1259.7,1167.9L1260.8,1170.1L1261.9,1172.3L1263.1,1174.5L1264.3,1176.7L1265.5,1178.9L1266.8,1181.1L1268.1,1183.3L1269.4,1185.4L1270.7,1187.5L1272.1,1189.6L1273.6,1191.7L1275.0,1193.8L1276.5,1195.8L1278.1,1197.8L1279.6,1199.7L1281.3,1201.6L1282.9,1203.4L1284.7,1205.2L1286.4,1206.9L1288.2,1208.6L1290.1,1210.2L1292.0,1211.8L1294.0,1213.3L1296.1,1214.7L1298.2,1216.0L1300.3,1217.2L1302.5,1218.4L1304.8,1219.4L1307.1,1220.5L1309.5,1221.4L1311.8,1222.2L1314.2,1223.0L1316.7,1223.8L1319.1,1224.4L1321.6,1225.0L1324.0,1225.6L1326.5,1226.1L1328.9,1226.5L1331.4,1226.9L1333.9,1227.3L1336.3,1227.6L1338.8,1227.9L1341.3,1228.1L1343.8,1228.3L1346.3,1228.5L1348.8,1228.7L1351.3,1228.8L1353.7,1228.9L1356.2,1229.0L1358.7,1229.0L1361.2,1229.1L1363.7,1229.1L1366.2,1229.2L1368.7,1229.2L1371.2,1229.2L1373.7,1229.3L1376.2,1229.3L1378.7,1229.3L1381.2,1229.3L1383.7,1229.4L1386.2,1229.4L1388.7,1229.4L1391.2,1229.4L1393.7,1229.4L1396.2,1229.5L1398.7,1229.5L1401.2,1229.5L1403.7,1229.5L1406.2,1229.5L1408.7,1229.5L1411.2,1229.6L1413.7,1229.6L1416.2,1229.6L1418.7,1229.6L1421.2,1229.6L1423.7,1229.6L1426.2,1229.7L1428.7,1229.7L1431.2,1229.7L1433.7,1229.7L1436.2,1229.7L1438.7,1229.7L1441.2,1229.7L1443.7,1229.8L1446.2,1229.8L1448.7,1229.8L1451.2,1229.8L1453.7,1229.8L1456.2,1229.8L1458.7,1229.8L1461.2,1229.8L1463.7,1229.8L1466.2,1229.9L1468.7,1229.9L1471.2,1229.9L1473.7,1229.9L1476.2,1229.9L1478.7,1229.9L1481.2,1229.9L1483.7,1229.9L1486.2,1229.9L1488.7,1229.9L1491.2,1230.0L1493.7,1230.0L1496.2,1230.0L1498.6,1230.0L1501.1,1230.0L1503.6,1230.0L1506.1,1230.0L1508.6,1230.0L1511.1,1230.0L1513.6,1230.0L1516.1,1230.0L1518.6,1230.0L1521.1,1230.0L1523.6,1230.1L1526.1,1230.1L1528.6,1230.1L1531.1,1230.1L1533.6,1230.1L1536.1,1230.1L1538.6,1230.1L1541.1,1230.1L1543.6,1230.1L1546.1,1230.1L1548.6,1230.1L1551.1,1230.1L1553.6,1230.1L1556.1,1230.1L1558.6,1230.1L1561.1,1230.1L1563.6,1230.1L1566.1,1230.2L1568.6,1230.2L1571.1,1230.2L1573.6,1230.2L1576.1,1230.2L1578.6,1230.2L1581.1,1230.2L1583.6,1230.2L1586.1,1230.2L1588.6,1230.2L1591.1,1230.2L1593.6,1230.2L1596.1,1230.2L1598.6,1230.2L1601.1,1230.2L1603.6,1230.2L1606.1,1230.2L1608.6,1230.2L1611.1,1230.2L1613.6,1230.2L1616.1,1230.2L1618.6,1230.2L1621.1,1230.2L1623.6,1230.2L1626.1,1230.3L1628.6,1230.3L1631.1,1230.3L1633.6,1230.3L1636.1,1230.3L1638.6,1230.3L1641.1,1230.3L1643.6,1230.3L1646.1,1230.3L1648.6,1230.3L1651.1,1230.3L1653.6,1230.3L1656.1,1230.3L1658.6,1230.3L1661.0,1230.3L1663.5,1230.3L1666.0,1230.3L1668.5,1230.3L1671.0,1230.3L1673.5,1230.3L1676.0,1230.3L1678.5,1230.3L1681.0,1230.4L1683.5,1230.4L1686.0,1230.4L1688.5,1230.4L1691.0,1230.4L1693.5,1230.4L1696.0,1230.4L1698.5,1230.4L1701.0,1230.4L1703.5,1230.4L1706.0,1230.4L1708.5,1230.4L1711.0,1230.4L1713.5,1230.4L1716.0,1230.4L1718.5,1230.4L1721.0,1230.4L1723.5,1230.5L1726.0,1230.5L1728.5,1230.5L1731.0,1230.5L1733.5,1230.5L1736.0,1230.5L1738.5,1230.5L1741.0,1230.5L1743.5,1230.5L1746.0,1230.5" stroke="#0050FF" stroke-width="8.3"/>
<path d="M431.7,39.9L431.7,42.4L431.8,44.9L431.8,47.4L431.9,49.9L431.9,52.4L432.0,54.9L432.0,57.4L432.0,59.9L432.1,62.4L432.1,64.9L432.2,67.4L432.2,69.9L432.3,72.4L432.3,74.9L432.4,77.4L432.5,79.9L432.5,82.4L432.6,85.0L432.6,87.5L432.7,90.0L432.8,92.5L432.8,95.0L432.9,97.5L432.9,100.0L433.0,102.5L433.1,105.0L433.1,107.5L433.2,110.0L433.3,112.5L433.3,115.0L433.4,117.5L433.5,120.0L433.6,122.5L433.6,125.0L433.7,127.5L433.8,130.0L433.9,132.5L433.9,135.0L434.0,137.5L434.1,140.0L434.2,142.5L434.3,145.0L434.3,147.5L434.4,150.0L434.5,152.5L434.6,155.0L434.7,157.5L434.8,159.9L434.8,162.4L434.9,164.9L435.0,167.4L435.1,169.9L435.2,172.4L435.3,174.9L435.4,177.4L435.5,179.9L435.6,182.4L435.7,184.9L435.8,187.4L435.8,189.9L435.9,192.4L436.0,194.9L436.1,197.4L436.2,199.9L436.3,202.4L436.4,204.9L436.5,207.4L436.6,209.9L436.7,212.4L436.8,214.9L436.9,217.4L437.0,219.8L437.2,222.3L437.3,224.8L437.4,227.3L437.5,229.8L437.6,232.3L437.7,234.8L437.8,237.3L437.9,239.8L438.0,242.3L438.1,244.8L438.2,247.3L438.3,249.8L438.5,252.3L438.6,254.8L438.7,257.3L438.8,259.7L438.9,262.2L439.0,264.7L439.1,267.2L439.3,269.7L439.4,272.2L439.5,274.7L439.6,277.2L439.7,279.7L439.8,282.2L440.0,284.7L440.1,287.2L440.2,289.7L440.3,292.2L440.4,294.6L440.6,297.1L440.7,299.6L440.8,302.1L440.9,304.6L441.1,307.1L441.2,309.6L441.3,312.1L441.4,314.6L441.5,317.1L441.7,319.6L441.8,322.1L441.9,324.6L442.0,327.0L442.2,329.5L442.3,332.0L442.4,334.5L442.6,337.0L442.7,339.5L442.8,342.0L442.9,344.5L443.1,347.0L443.2,349.5L443.3,352.0L443.5,354.5L443.6,357.0L443.7,359.4L443.9,361.9L444.0,364.4L444.1,366.9L444.2,369.4L444.4,371.9L444.5,374.4L444.6,376.9L444.8,379.4L444.9,381.9L445.0,384.4L445.2,386.9L445.3,389.3L445.4,391.8L445.6,394.3L445.7,396.8L445.8,399.3L446.0,401.8L446.1,404.3L446.2,406.8L446.4,409.3L446.5,411.8L446.6,414.3L446.8,416.8L446.9,419.3L447.1,421.8L447.2,424.2L447.3,426.7L447.5,429.2L447.6,431.7L447.7,434.2L447.9,436.7L448.0,439.2L448.1,441.7L448.3,444.2L448.4,446.7L448.5,449.2L448.7,451.7L448.8,454.2L449.0,456.7L449.1,459.2L449.2,461.6L449.4,464.1L449.5,466.6L449.6,469.1L449.8,471.6L449.9,474.1L450.0,476.6L450.2,479.1L450.3,481.6L450.5,484.1L450.6,486.6L450.7,489.1L450.9,491.6L451.0,494.1L451.1,496.6L451.3,499.1L451.4,501.6L451.5,504.1L451.7,506.6L451.8,509.1L451.9,511.6L452.1,514.0L452.2,516.5L452.3,519.0L452.5,521.5L452.6,524.0L452.7,526.5L452.9,529.0L453.0,531.5L453.1,534.0L453.3,536.5L453.4,539.0L453.5,541.5L453.7,544.0L453.8,546.5L453.9,549.0L454.1,551.5L454.2,554.0L454.3,556.5L454.5,559.0L454.6,561.5L454.7,564.0L454.8,566.5L455.0,569.0L455.1,571.5L455.2,574.0L455.4,576.5L455.5,579.0L455.6,581.5L455.7,584.0L455.9,586.5L456.0,589.0L456.1,591.5L456.3,594.0L456.4,596.5L456.5,599.0L456.6,601.5L456.8,604.0L456.9,606.5L457.0,609.0L457.2,611.5L457.3,614.0L457.4,616.5L457.6,619.0L457.7,621.5L457.8,624.0L458.0,626.5L458.1,629.0L458.2,631.5L458.4,634.0L458.5,636.5L458.7,639.0L458.8,641.5L459.0,644.0L459.1,646.5L459.3,649.0L459.4,651.5L459.6,654.0L459.7,656.5L459.9,659.0L460.1,661.5L460.2,664.0L460.4,666.5L460.6,669.0L460.7,671.5L460.9,674.0L461.1,676.5L461.3,679.0L461.4,681.5L461.6,684.0L461.8,686.5L462.0,689.0L462.2,691.5L462.4,693.9L462.6,696.4L462.8,698.9L463.0,701.4L463.2,703.9L463.5,706.4L463.7,708.9L463.9,711.4L464.1,713.8L464.4,716.3L464.6,718.8L464.9,721.3L465.1,723.8L465.4,726.3L465.6,728.7L465.9,731.2L466.1,733.7L466.4,736.2L466.7,738.7L467.0,741.1L467.3,743.6L467.6,746.1L467.8,748.6L468.1,751.0L468.5,753.5L468.8,756.0L469.1,758.4L469.4,760.9L469.7,763.4L470.1,765.8L470.4,768.3L470.8,770.8L471.1,773.2L471.5,775.7L471.8,778.2L472.2,780.6L472.6,783.1L473.0,785.5L473.4,788.0L473.8,790.4L474.2,792.9L474.6,795.4L475.0,797.8L475.4,800.3L475.9,802.7L476.3,805.1L476.7,807.6L477.2,810.0L477.7,812.5L478.1,814.9L478.6,817.4L479.1,819.8L479.6,822.2L480.1,824.7L480.6,827.1L481.1,829.5L481.6,832.0L482.2,834.4L482.7,836.8L483.2,839.3L483.8,841.7L484.4,844.1L484.9,846.5L485.5,848.9L486.1,851.4L486.7,853.8L487.3,856.2L487.9,858.6L488.6,861.0L489.2,863.4L489.8,865.8L490.5,868.2L491.2,870.6L491.8,873.0L492.5,875.4L493.2,877.8L493.9,880.2L494.6,882.6L495.3,885.0L496.1,887.4L496.8,889.8L497.6,892.2L498.3,894.6L499.1,897.0L499.9,899.3L500.7,901.7L501.5,904.1L502.3,906.5L503.1,908.8L503.9,911.2L504.8,913.6L505.6,915.9L506.5,918.3L507.4,920.6L508.3,923.0L509.1,925.3L510.1,927.7L511.0,930.0L511.9,932.3L512.8,934.7L513.8,937.0L514.7,939.3L515.7,941.6L516.7,944.0L517.7,946.3L518.7,948.6L519.7,950.9L520.7,953.2L521.7,955.5L522.8,957.8L523.8,960.1L524.9,962.3L526.0,964.6L527.0,966.9L528.1,969.1L529.2,971.4L530.4,973.7L531.5,975.9L532.7,978.1L533.8,980.4L535.0,982.6L536.2,984.8L537.4,987.0L538.6,989.1L539.9,991.3L541.2,993.4L542.5,995.6L543.8,997.7L545.1,999.8L546.5,1001.8L547.9,1003.9L549.3,1005.9L550.7,1007.9L552.2,1009.9L553.7,1011.8L555.2,1013.8L556.7,1015.7L558.3,1017.5L559.9,1019.4L561.6,1021.2L563.2,1022.9L564.9,1024.7L566.7,1026.4L568.5,1028.1L570.3,1029.7L572.1,1031.3L574.0,1032.9L575.9,1034.4L577.9,1035.9L579.9,1037.4L581.9,1038.8L584.0,1040.1L586.1,1041.5L588.3,1042.7L590.5,1043.9L592.8,1044.9L595.0,1045.9L597.4,1046.8L599.7,1047.5L602.1,1048.2L604.6,1048.7L607.0,1049.1L609.5,1049.4L612.0,1049.6L614.6,1049.7L617.1,1049.7L619.7,1049.6L622.3,1049.5L624.9,1049.2L627.4,1049.0L630.0,1048.7L632.6,1048.3L635.2,1047.9L637.7,1047.5L640.2,1047.1L642.7,1046.6L645.2,1046.2L647.7,1045.8L650.1,1045.3L652.5,1044.9L654.9,1044.5L657.3,1044.1L659.6,1043.7L662.0,1043.3L664.4,1042.9L666.7,1042.5L669.1,1042.1L671.5,1041.8L674.0,1041.5L676.4,1041.2L678.9,1040.9L681.4,1040.6L684.0,1040.3L686.6,1040.1L689.2,1039.8L691.8,1039.6L694.4,1039.3L697.0,1038.9L699.6,1038.6L702.1,1038.1L704.6,1037.6L707.1,1037.1L709.4,1036.4L711.7,1035.6L714.0,1034.7L716.1,1033.7L718.2,1032.6L720.1,1031.4L722.0,1030.1L723.9,1028.7L725.6,1027.3L727.4,1025.7L729.0,1024.1L730.6,1022.3L732.1,1020.5L733.6,1018.7L735.1,1016.8L736.5,1014.8L737.9,1012.8L739.2,1010.7L740.5,1008.6L741.8,1006.4L743.1,1004.2L744.3,1002.0L745.6,999.7L746.8,997.5L748.0,995.2L749.2,992.9L750.4,990.6L751.6,988.2L752.9,985.9L754.1,983.6L755.4,981.3L756.6,979.0L757.9,976.7L759.2,974.5L760.6,972.3L762.0,970.1L763.4,967.9L764.9,965.8L766.4,963.7L767.9,961.7L769.5,959.7L771.2,957.8L772.9,956.0L774.7,954.2L776.5,952.4L778.3,950.7L780.2,949.1L782.1,947.5L784.1,945.9L786.1,944.5L788.1,943.0L790.2,941.7L792.3,940.4L794.4,939.1L796.6,937.9L798.8,936.8L801.0,935.7L803.2,934.6L805.4,933.7L807.7,932.8L810.0,931.9L812.3,931.2L814.5,930.8L816.8,930.6L819.1,930.8L821.3,931.4L823.4,932.3L825.5,933.4L827.6,934.8L829.5,936.4L831.3,938.2L833.0,940.0L834.6,942.0L836.1,944.0L837.5,946.1L838.8,948.3L840.0,950.5L841.2,952.8L842.4,955.1L843.5,957.5L844.6,959.8L845.7,962.2L846.8,964.6L847.9,967.0L849.0,969.4L850.1,971.7L851.3,974.0L852.6,976.2L853.9,978.4L855.3,980.6L856.8,982.6L858.4,984.6L860.1,986.5L861.9,988.3L863.7,990.0L865.7,991.6L867.7,993.1L869.8,994.5L872.0,995.8L874.2,996.9L876.4,998.0L878.7,999.0L881.0,999.8L883.3,1000.6L885.7,1001.2L888.0,1001.7L890.4,1002.0L892.7,1002.2L895.0,1002.4L897.4,1002.4L899.7,1002.2L902.0,1002.0L904.4,1001.7L906.7,1001.3L909.0,1000.8L911.3,1000.2L913.6,999.5L915.9,998.8L918.2,997.9L920.5,997.0L922.8,996.1L925.1,995.1L927.4,994.0L929.7,992.9L932.0,991.7L934.2,990.5L936.5,989.3L938.8,988.0L941.0,986.7L943.3,985.4L945.6,984.1L947.8,982.8L950.1,981.4L952.3,980.1L954.6,978.7L956.8,977.4L959.0,976.1L961.3,974.8L963.5,973.5L965.7,972.3L968.0,971.0L970.2,969.8L972.4,968.6L974.6,967.4L976.8,966.3L979.1,965.1L981.3,964.0L983.5,962.8L985.7,961.7L987.9,960.6L990.1,959.5L992.2,958.4L994.4,957.3L996.6,956.1L998.8,955.0L1001.0,953.9L1003.1,952.8L1005.3,951.7L1007.5,950.6L1009.6,949.5L1011.8,948.4L1013.9,947.3L1016.1,946.1L1018.2,945.0L1020.4,943.8L1022.5,942.7L1024.6,941.5L1026.7,940.3L1028.9,939.1L1031.0,937.9L1033.1,936.6L1035.2,935.3L1037.3,934.1L1039.4,932.7L1041.5,931.4L1043.6,930.1L1045.7,928.7L1047.7,927.3L1049.8,925.8L1051.9,924.3L1054.0,922.8L1056.0,921.3L1058.1,919.7L1060.1,918.1L1062.2,916.5L1064.2,914.8L1066.2,913.2L1068.3,911.5L1070.3,909.9L1072.4,908.2L1074.4,906.6L1076.5,905.1L1078.6,903.6L1080.7,902.2L1082.8,900.9L1084.9,899.6L1087.0,898.5L1089.2,897.5L1091.3,896.6L1093.5,895.9L1095.8,895.3L1098.0,894.9L1100.3,894.6L1102.6,894.5L1105.0,894.7L1107.3,894.9L1109.7,895.3L1112.1,895.8L1114.6,896.3L1117.0,897.0L1119.5,897.7L1122.0,898.4L1124.5,899.1L1127.0,899.9L1129.5,900.6L1132.0,901.3L1134.5,902.0L1137.0,902.7L1139.5,903.4L1142.0,904.1L1144.5,904.9L1146.9,905.6L1149.3,906.4L1151.7,907.3L1154.0,908.1L1156.3,909.1L1158.6,910.0L1160.8,911.1L1163.0,912.2L1165.1,913.3L1167.1,914.6L1169.1,915.9L1171.0,917.3L1172.9,918.8L1174.7,920.3L1176.5,921.9L1178.2,923.5L1179.8,925.2L1181.5,927.0L1183.0,928.8L1184.6,930.7L1186.0,932.6L1187.5,934.5L1188.9,936.5L1190.3,938.6L1191.6,940.7L1192.9,942.8L1194.2,944.9L1195.5,947.1L1196.7,949.3L1197.9,951.5L1199.1,953.8L1200.3,956.1L1201.4,958.4L1202.5,960.7L1203.6,963.0L1204.7,965.3L1205.8,967.6L1206.9,970.0L1208.0,972.3L1209.0,974.6L1210.1,977.0L1211.2,979.3L1212.2,981.6L1213.3,983.9L1214.3,986.2L1215.4,988.6L1216.4,990.8L1217.5,993.1L1218.5,995.4L1219.6,997.7L1220.6,1000.0L1221.7,1002.2L1222.7,1004.5L1223.8,1006.8L1224.8,1009.0L1225.9,1011.3L1226.9,1013.5L1228.0,1015.7L1229.0,1018.0L1230.1,1020.2L1231.2,1022.4L1232.2,1024.7L1233.3,1026.9L1234.3,1029.1L1235.4,1031.3L1236.5,1033.5L1237.6,1035.8L1238.6,1038.0L1239.7,1040.2L1240.8,1042.4L1241.9,1044.6L1243.0,1046.8L1244.0,1049.0L1245.1,1051.2L1246.2,1053.5L1247.3,1055.7L1248.4,1057.9L1249.6,1060.1L1250.7,1062.3L1251.8,1064.5L1252.9,1066.7L1254.0,1068.9L1255.2,1071.1L1256.3,1073.4L1257.5,1075.6L1258.6,1077.8L1259.8,1080.0L1260.9,1082.3L1262.1,1084.5L1263.3,1086.7L1264.5,1088.9L1265.7,1091.1L1266.9,1093.3L1268.2,1095.5L1269.4,1097.7L1270.7,1099.9L1272.0,1102.0L1273.4,1104.1L1274.7,1106.2L1276.1,1108.3L1277.6,1110.3L1279.0,1112.3L1280.5,1114.3L1282.1,1116.2L1283.6,1118.1L1285.3,1120.0L1286.9,1121.8L1288.6,1123.6L1290.4,1125.3L1292.1,1127.1L1293.9,1128.7L1295.8,1130.4L1297.6,1132.0L1299.5,1133.7L1301.4,1135.2L1303.3,1136.8L1305.2,1138.4L1307.2,1140.0L1309.1,1141.5L1311.1,1143.0L1313.1,1144.6L1315.0,1146.1L1317.0,1147.6L1319.0,1149.1L1321.1,1150.6L1323.1,1152.0L1325.1,1153.5L1327.1,1154.9L1329.2,1156.4L1331.3,1157.8L1333.3,1159.2L1335.4,1160.6L1337.5,1162.0L1339.6,1163.4L1341.7,1164.7L1343.8,1166.1L1346.0,1167.4L1348.1,1168.7L1350.2,1170.0L1352.4,1171.3L1354.5,1172.6L1356.7,1173.8L1358.9,1175.1L1361.1,1176.3L1363.3,1177.5L1365.5,1178.7L1367.7,1179.9L1369.9,1181.1L1372.1,1182.2L1374.3,1183.4L1376.6,1184.5L1378.8,1185.6L1381.1,1186.7L1383.3,1187.7L1385.6,1188.8L1387.9,1189.8L1390.2,1190.9L1392.4,1191.9L1394.7,1192.8L1397.0,1193.8L1399.3,1194.8L1401.6,1195.7L1404.0,1196.6L1406.3,1197.5L1408.6,1198.4L1410.9,1199.3L1413.3,1200.1L1415.6,1200.9L1418.0,1201.7L1420.3,1202.5L1422.7,1203.3L1425.1,1204.0L1427.4,1204.7L1429.8,1205.4L1432.2,1206.1L1434.6,1206.8L1437.0,1207.4L1439.4,1208.1L1441.7,1208.7L1444.2,1209.3L1446.6,1209.8L1449.0,1210.4L1451.4,1210.9L1453.8,1211.5L1456.2,1212.0L1458.6,1212.5L1461.1,1212.9L1463.5,1213.4L1465.9,1213.8L1468.4,1214.3L1470.8,1214.7L1473.3,1215.1L1475.7,1215.5L1478.2,1215.8L1480.6,1216.2L1483.1,1216.5L1485.6,1216.9L1488.0,1217.2L1490.5,1217.5L1493.0,1217.8L1495.4,1218.1L1497.9,1218.3L1500.4,1218.6L1502.9,1218.8L1505.4,1219.1L1507.8,1219.3L1510.3,1219.5L1512.8,1219.7L1515.3,1219.9L1517.8,1220.1L1520.3,1220.2L1522.8,1220.4L1525.3,1220.6L1527.8,1220.7L1530.3,1220.8L1532.8,1221.0L1535.3,1221.1L1537.8,1221.2L1540.3,1221.3L1542.9,1221.4L1545.4,1221.5L1547.9,1221.6L1550.4,1221.7L1552.9,1221.7L1555.4,1221.8L1557.9,1221.9L1560.5,1221.9L1563.0,1222.0L1565.5,1222.0L1568.0,1222.1L1570.5,1222.1L1573.1,1222.1L1575.6,1222.2L1578.1,1222.2L1580.6,1222.2L1583.1,1222.2L1585.7,1222.2L1588.2,1222.3L1590.7,1222.3L1593.2,1222.3L1595.7,1222.3L1598.3,1222.3L1600.8,1222.3L1603.3,1222.3L1605.8,1222.3L1608.3,1222.3L1610.8,1222.3L1613.4,1222.4L1615.9,1222.4L1618.4,1222.4L1620.9,1222.4L1623.4,1222.4L1625.9,1222.4L1628.4,1222.4L1630.9,1222.4L1633.4,1222.5L1635.9,1222.5L1638.4,1222.5L1640.9,1222.5L1643.4,1222.6L1645.9,1222.6L1648.4,1222.7L1650.9,1222.7L1653.4,1222.8L1655.9,1222.8L1658.4,1222.9L1660.9,1222.9L1663.3,1223.0L1665.8,1223.1L1668.3,1223.2L1670.8,1223.3L1673.2,1223.4L1675.7,1223.5L1678.2,1223.6L1680.6,1223.7L1683.1,1223.8L1685.5,1224.0L1688.0,1224.1L1690.4,1224.3L1692.9,1224.4L1695.3,1224.6L1697.8,1224.8L1700.2,1225.0L1702.6,1225.2L1705.1,1225.4L1707.5,1225.6" stroke="#00FFFF" stroke-width="8.3"/>
<path d="M451.2,40.0L451.2,42.5L451.3,45.0L451.4,47.5L451.4,50.0L451.5,52.5L451.6,55.0L451.7,57.5L451.8,60.0L451.9,62.5L451.9,65.0L452.0,67.5L452.1,70.0L452.2,72.5L452.3,75.0L452.5,77.5L452.6,80.0L452.7,82.5L452.8,85.0L452.9,87.5L453.0,89.9L453.1,92.4L453.3,94.9L453.4,97.4L453.5,99.9L453.7,102.4L453.8,104.9L453.9,107.4L454.1,109.9L454.2,112.4L454.3,114.9L454.5,117.4L454.6,119.9L454.8,122.4L454.9,124.9L455.1,127.4L455.2,129.9L455.4,132.4L455.6,134.9L455.7,137.4L455.9,139.9L456.1,142.3L456.2,144.8L456.4,147.3L456.6,149.8L456.7,152.3L456.9,154.8L457.1,157.3L457.3,159.8L457.4,162.3L457.6,164.8L457.8,167.3L458.0,169.8L458.2,172.3L458.4,174.8L458.5,177.2L458.7,179.7L458.9,182.2L459.1,184.7L459.3,187.2L459.5,189.7L459.7,192.2L459.9,194.7L460.1,197.2L460.3,199.7L460.5,202.2L460.7,204.7L460.9,207.1L461.1,209.6L461.3,212.1L461.5,214.6L461.7,217.1L462.0,219.6L462.2,222.1L462.4,224.6L462.6,227.1L462.8,229.6L463.0,232.1L463.2,234.5L463.4,237.0L463.7,239.5L463.9,242.0L464.1,244.5L464.3,247.0L464.5,249.5L464.7,252.0L465.0,254.5L465.2,257.0L465.4,259.5L465.6,261.9L465.9,264.4L466.1,266.9L466.3,269.4L466.5,271.9L466.7,274.4L467.0,276.9L467.2,279.4L467.4,281.9L467.6,284.4L467.9,286.8L468.1,289.3L468.3,291.8L468.5,294.3L468.8,296.8L469.0,299.3L469.2,301.8L469.4,304.3L469.7,306.8L469.9,309.2L470.1,311.7L470.3,314.2L470.5,316.7L470.8,319.2L471.0,321.7L471.2,324.2L471.4,326.7L471.7,329.2L471.9,331.7L472.1,334.1L472.3,336.6L472.6,339.1L472.8,341.6L473.0,344.1L473.2,346.6L473.5,349.1L473.7,351.6L473.9,354.1L474.1,356.6L474.4,359.0L474.6,361.5L474.8,364.0L475.0,366.5L475.3,369.0L475.5,371.5L475.7,374.0L475.9,376.5L476.2,379.0L476.4,381.5L476.6,383.9L476.9,386.4L477.1,388.9L477.3,391.4L477.5,393.9L477.8,396.4L478.0,398.9L478.2,401.4L478.5,403.8L478.7,406.3L478.9,408.8L479.2,411.3L479.4,413.8L479.7,416.3L479.9,418.8L480.1,421.3L480.4,423.8L480.6,426.2L480.9,428.7L481.1,431.2L481.4,433.7L481.6,436.2L481.8,438.7L482.1,441.2L482.3,443.7L482.6,446.1L482.8,448.6L483.1,451.1L483.4,453.6L483.6,456.1L483.9,458.6L484.1,461.1L484.4,463.5L484.6,466.0L484.9,468.5L485.2,471.0L485.4,473.5L485.7,476.0L486.0,478.5L486.2,480.9L486.5,483.4L486.8,485.9L487.0,488.4L487.3,490.9L487.6,493.4L487.9,495.8L488.2,498.3L488.4,500.8L488.7,503.3L489.0,505.8L489.3,508.3L489.6,510.7L489.9,513.2L490.2,515.7L490.4,518.2L490.7,520.7L491.0,523.1L491.3,525.6L491.6,528.1L491.9,530.6L492.3,533.1L492.6,535.6L492.9,538.0L493.2,540.5L493.5,543.0L493.8,545.5L494.1,547.9L494.4,550.4L494.8,552.9L495.1,555.4L495.4,557.9L495.7,560.3L496.1,562.8L496.4,565.3L496.7,567.8L497.1,570.3L497.4,572.7L497.8,575.2L498.1,577.7L498.5,580.2L498.8,582.6L499.2,585.1L499.5,587.6L499.9,590.1L500.2,592.5L500.6,595.0L501.0,597.5L501.3,600.0L501.7,602.4L502.1,604.9L502.4,607.4L502.8,609.8L503.2,612.3L503.6,614.8L504.0,617.3L504.3,619.7L504.7,622.2L505.1,624.7L505.5,627.1L505.9,629.6L506.3,632.1L506.7,634.6L507.1,637.0L507.5,639.5L507.9,642.0L508.3,644.4L508.7,646.9L509.1,649.4L509.5,651.8L509.9,654.3L510.3,656.8L510.7,659.2L511.2,661.7L511.6,664.2L512.0,666.6L512.4,669.1L512.8,671.6L513.2,674.0L513.7,676.5L514.1,678.9L514.5,681.4L514.9,683.9L515.4,686.3L515.8,688.8L516.2,691.3L516.7,693.7L517.1,696.2L517.5,698.6L518.0,701.1L518.4,703.6L518.8,706.0L519.3,708.5L519.7,710.9L520.1,713.4L520.6,715.9L521.0,718.3L521.4,720.8L521.9,723.2L522.3,725.7L522.8,728.1L523.2,730.6L523.7,733.0L524.1,735.5L524.5,738.0L525.0,740.4L525.4,742.9L525.9,745.3L526.3,747.8L526.8,750.2L527.2,752.7L527.7,755.1L528.1,757.6L528.5,760.0L529.0,762.5L529.4,764.9L529.9,767.4L530.4,769.8L530.8,772.3L531.3,774.7L531.7,777.2L532.2,779.6L532.6,782.1L533.1,784.5L533.6,787.0L534.0,789.4L534.5,791.9L535.0,794.3L535.4,796.8L535.9,799.2L536.4,801.6L536.9,804.1L537.4,806.5L537.8,809.0L538.3,811.4L538.8,813.9L539.3,816.3L539.8,818.8L540.3,821.2L540.8,823.6L541.3,826.1L541.8,828.5L542.3,831.0L542.8,833.4L543.3,835.8L543.8,838.3L544.4,840.7L544.9,843.2L545.4,845.6L545.9,848.1L546.5,850.5L547.0,852.9L547.6,855.4L548.1,857.8L548.6,860.3L549.2,862.7L549.8,865.1L550.3,867.6L550.9,870.0L551.4,872.4L552.0,874.9L552.6,877.3L553.2,879.8L553.8,882.2L554.3,884.6L554.9,887.1L555.6,889.5L556.2,891.9L556.8,894.4L557.4,896.8L558.1,899.2L558.8,901.6L559.5,904.0L560.2,906.4L560.9,908.8L561.7,911.2L562.5,913.6L563.3,915.9L564.2,918.3L565.0,920.6L565.9,922.9L566.9,925.2L567.9,927.5L568.9,929.8L569.9,932.1L571.0,934.3L572.2,936.5L573.4,938.7L574.6,940.9L575.9,943.1L577.2,945.2L578.6,947.4L580.0,949.5L581.4,951.5L583.0,953.5L584.5,955.5L586.1,957.5L587.7,959.4L589.4,961.3L591.1,963.1L592.9,964.9L594.7,966.7L596.5,968.3L598.4,970.0L600.3,971.5L602.2,973.0L604.2,974.5L606.2,975.9L608.3,977.2L610.3,978.4L612.5,979.6L614.6,980.7L616.8,981.7L619.0,982.6L621.2,983.5L623.5,984.2L625.8,984.9L628.1,985.5L630.4,986.0L632.8,986.4L635.2,986.7L637.6,986.9L640.0,987.0L642.5,987.0L645.0,986.8L647.5,986.6L650.0,986.3L652.6,985.9L655.1,985.4L657.7,984.8L660.3,984.3L662.9,983.7L665.4,983.1L668.0,982.5L670.6,981.9L673.2,981.4L675.8,980.9L678.4,980.5L681.0,980.2L683.6,980.0L686.2,979.9L688.7,979.9L691.3,979.9L693.8,980.0L696.2,980.1L698.7,980.1L701.1,980.2L703.5,980.1L705.8,980.0L708.1,979.8L710.3,979.4L712.5,978.9L714.6,978.2L716.6,977.3L718.6,976.2L720.5,974.9L722.4,973.5L724.2,971.8L725.9,970.0L727.6,968.1L729.2,966.1L730.8,963.9L732.3,961.7L733.8,959.4L735.2,957.1L736.6,954.7L737.9,952.3L739.2,949.9L740.5,947.5L741.7,945.1L742.9,942.8L744.1,940.5L745.2,938.2L746.3,936.0L747.4,933.8L748.5,931.7L749.6,929.5L750.6,927.4L751.7,925.3L752.8,923.2L753.8,921.2L754.9,919.1L756.0,917.0L757.1,915.0L758.3,912.9L759.5,910.8L760.7,908.7L761.9,906.6L763.2,904.5L764.5,902.3L765.9,900.2L767.3,898.0L768.8,895.8L770.3,893.7L771.8,891.5L773.4,889.4L775.0,887.3L776.7,885.2L778.4,883.2L780.2,881.2L782.0,879.3L783.8,877.5L785.7,875.7L787.6,874.0L789.6,872.3L791.6,870.8L793.6,869.3L795.7,868.0L797.8,866.8L799.9,865.7L802.1,864.7L804.3,863.8L806.6,863.1L808.9,862.5L811.2,862.1L813.6,861.8L816.0,861.8L818.3,862.0L820.5,862.6L822.6,863.6L824.6,864.8L826.5,866.3L828.2,868.0L829.9,869.9L831.6,872.0L833.1,874.1L834.5,876.3L835.9,878.5L837.2,880.7L838.5,883.0L839.7,885.3L840.8,887.6L841.9,889.9L843.0,892.2L844.1,894.5L845.1,896.8L846.2,899.1L847.2,901.4L848.3,903.7L849.4,906.0L850.5,908.2L851.6,910.5L852.8,912.7L854.0,914.9L855.3,917.0L856.6,919.1L858.0,921.2L859.5,923.2L861.1,925.1L862.8,927.1L864.5,928.9L866.4,930.7L868.3,932.4L870.3,934.1L872.4,935.6L874.5,937.1L876.7,938.5L878.9,939.8L881.2,940.9L883.5,942.0L885.8,942.9L888.1,943.7L890.5,944.3L892.8,944.8L895.1,945.1L897.5,945.3L899.8,945.4L902.1,945.3L904.4,945.0L906.7,944.6L908.9,944.1L911.2,943.5L913.4,942.8L915.7,942.0L917.9,941.0L920.1,940.0L922.3,938.9L924.5,937.7L926.7,936.5L928.9,935.2L931.1,933.8L933.2,932.3L935.4,930.9L937.6,929.4L939.7,927.8L941.9,926.2L944.0,924.6L946.1,923.0L948.3,921.4L950.4,919.8L952.5,918.2L954.6,916.6L956.7,915.1L958.9,913.5L961.0,912.0L963.1,910.5L965.2,909.1L967.3,907.7L969.4,906.4L971.5,905.1L973.6,903.8L975.7,902.5L977.7,901.2L979.8,900.0L981.9,898.8L984.0,897.6L986.1,896.4L988.2,895.2L990.2,894.0L992.3,892.9L994.4,891.7L996.5,890.5L998.5,889.3L1000.6,888.1L1002.7,886.9L1004.7,885.6L1006.8,884.4L1008.9,883.1L1010.9,881.8L1013.0,880.5L1015.0,879.1L1017.1,877.7L1019.2,876.3L1021.2,874.8L1023.3,873.3L1025.3,871.7L1027.4,870.2L1029.4,868.6L1031.5,866.9L1033.5,865.3L1035.6,863.6L1037.7,862.0L1039.7,860.3L1041.8,858.7L1043.8,857.0L1045.9,855.4L1048.0,853.7L1050.1,852.1L1052.2,850.5L1054.3,849.0L1056.3,847.4L1058.4,845.9L1060.6,844.5L1062.7,843.1L1064.8,841.7L1066.9,840.4L1069.1,839.1L1071.2,838.0L1073.4,836.8L1075.5,835.8L1077.7,834.8L1079.9,833.9L1082.1,833.1L1084.3,832.3L1086.5,831.7L1088.7,831.2L1091.0,830.7L1093.2,830.4L1095.5,830.1L1097.8,830.0L1100.1,829.9L1102.4,829.9L1104.8,829.9L1107.1,830.1L1109.5,830.2L1112.0,830.5L1114.4,830.7L1117.0,831.0L1119.5,831.3L1122.1,831.6L1124.6,832.0L1127.2,832.5L1129.8,832.9L1132.4,833.4L1135.0,834.0L1137.6,834.6L1140.1,835.3L1142.7,836.0L1145.2,836.8L1147.6,837.6L1150.0,838.5L1152.4,839.5L1154.7,840.6L1157.0,841.7L1159.1,842.9L1161.3,844.2L1163.3,845.5L1165.3,846.9L1167.3,848.4L1169.2,849.9L1171.0,851.5L1172.8,853.1L1174.5,854.8L1176.2,856.6L1177.9,858.4L1179.4,860.2L1181.0,862.1L1182.5,864.0L1184.0,866.0L1185.4,868.0L1186.8,870.1L1188.1,872.1L1189.5,874.2L1190.8,876.4L1192.0,878.5L1193.2,880.7L1194.4,882.9L1195.6,885.2L1196.7,887.4L1197.9,889.7L1199.0,892.0L1200.0,894.2L1201.1,896.5L1202.1,898.8L1203.1,901.1L1204.2,903.4L1205.1,905.7L1206.1,908.0L1207.1,910.3L1208.0,912.7L1209.0,915.0L1209.9,917.3L1210.8,919.6L1211.7,921.9L1212.6,924.3L1213.5,926.6L1214.4,928.9L1215.3,931.3L1216.2,933.6L1217.0,935.9L1217.9,938.3L1218.8,940.6L1219.6,942.9L1220.5,945.3L1221.3,947.6L1222.2,950.0L1223.0,952.3L1223.9,954.6L1224.7,957.0L1225.6,959.3L1226.5,961.7L1227.3,964.0L1228.2,966.4L1229.1,968.7L1229.9,971.1L1230.8,973.4L1231.7,975.8L1232.6,978.1L1233.5,980.4L1234.4,982.8L1235.3,985.1L1236.2,987.5L1237.1,989.8L1238.1,992.1L1239.0,994.5L1239.9,996.8L1240.9,999.1L1241.8,1001.5L1242.8,1003.8L1243.8,1006.1L1244.7,1008.4L1245.7,1010.7L1246.7,1013.0L1247.7,1015.3L1248.7,1017.6L1249.7,1019.9L1250.8,1022.2L1251.8,1024.5L1252.9,1026.8L1253.9,1029.0L1255.0,1031.3L1256.1,1033.6L1257.1,1035.8L1258.2,1038.1L1259.4,1040.3L1260.5,1042.5L1261.6,1044.8L1262.7,1047.0L1263.9,1049.2L1265.1,1051.4L1266.2,1053.6L1267.4,1055.8L1268.6,1058.0L1269.8,1060.1L1271.1,1062.3L1272.3,1064.5L1273.6,1066.6L1274.8,1068.7L1276.1,1070.9L1277.4,1073.0L1278.7,1075.1L1280.0,1077.2L1281.4,1079.3L1282.7,1081.3L1284.1,1083.4L1285.5,1085.5L1286.9,1087.5L1288.3,1089.5L1289.7,1091.6L1291.1,1093.6L1292.6,1095.6L1294.1,1097.5L1295.6,1099.5L1297.1,1101.5L1298.6,1103.4L1300.1,1105.3L1301.7,1107.2L1303.3,1109.1L1304.9,1111.0L1306.5,1112.9L1308.1,1114.8L1309.8,1116.6L1311.4,1118.4L1313.1,1120.3L1314.8,1122.1L1316.5,1123.8L1318.3,1125.6L1320.0,1127.4L1321.8,1129.1L1323.6,1130.8L1325.4,1132.5L1327.2,1134.2L1329.1,1135.9L1330.9,1137.6L1332.8,1139.2L1334.7,1140.9L1336.6,1142.5L1338.5,1144.1L1340.4,1145.7L1342.4,1147.2L1344.3,1148.8L1346.3,1150.3L1348.3,1151.8L1350.3,1153.4L1352.3,1154.8L1354.4,1156.3L1356.4,1157.8L1358.5,1159.2L1360.5,1160.6L1362.6,1162.1L1364.7,1163.4L1366.8,1164.8L1368.9,1166.2L1371.0,1167.5L1373.2,1168.9L1375.3,1170.2L1377.5,1171.5L1379.6,1172.7L1381.8,1174.0L1384.0,1175.3L1386.2,1176.5L1388.4,1177.7L1390.6,1178.9L1392.8,1180.1L1395.0,1181.2L1397.3,1182.4L1399.5,1183.5L1401.8,1184.6L1404.0,1185.7L1406.3,1186.8L1408.6,1187.8L1410.9,1188.9L1413.1,1189.9L1415.4,1190.9L1417.7,1191.9L1420.0,1192.9L1422.3,1193.8L1424.7,1194.8L1427.0,1195.7L1429.3,1196.6L1431.6,1197.5L1434.0,1198.3L1436.3,1199.2L1438.6,1200.0L1441.0,1200.9L1443.4,1201.7L1445.7,1202.4L1448.1,1203.2L1450.4,1204.0L1452.8,1204.7L1455.2,1205.4L1457.6,1206.1L1459.9,1206.8L1462.3,1207.5L1464.7,1208.2L1467.1,1208.8L1469.5,1209.5L1471.9,1210.1L1474.3,1210.7L1476.7,1211.3L1479.2,1211.8L1481.6,1212.4L1484.0,1213.0L1486.4,1213.5L1488.9,1214.0L1491.3,1214.5L1493.7,1215.0L1496.2,1215.5L1498.6,1216.0L1501.0,1216.4L1503.5,1216.9L1505.9,1217.3L1508.4,1217.8L1510.8,1218.2L1513.3,1218.6L1515.8,1219.0L1518.2,1219.3L1520.7,1219.7L1523.2,1220.1L1525.6,1220.4L1528.1,1220.7L1530.6,1221.1L1533.1,1221.4L1535.5,1221.7L1538.0,1222.0L1540.5,1222.3L1543.0,1222.5L1545.5,1222.8L1548.0,1223.1L1550.4,1223.3L1552.9,1223.5L1555.4,1223.8L1557.9,1224.0L1560.4,1224.2L1562.9,1224.4L1565.4,1224.6L1567.9,1224.8L1570.4,1225.0L1572.9,1225.1L1575.4,1225.3L1577.9,1225.5L1580.4,1225.6L1582.9,1225.8L1585.4,1225.9L1587.9,1226.0L1590.5,1226.1L1593.0,1226.3L1595.5,1226.4L1598.0,1226.5L1600.5,1226.6L1603.0,1226.7L1605.5,1226.8L1608.0,1226.8L1610.5,1226.9L1613.0,1227.0L1615.6,1227.1L1618.1,1227.1L1620.6,1227.2L1623.1,1227.2L1625.6,1227.3L1628.1,1227.3L1630.6,1227.4L1633.1,1227.4L1635.6,1227.4L1638.1,1227.5L1640.6,1227.5L1643.1,1227.5L1645.6,1227.5L1648.2,1227.5L1650.7,1227.6L1653.2,1227.6L1655.7,1227.6L1658.2,1227.6L1660.7,1227.6L1663.2,1227.6L1665.6,1227.6L1668.1,1227.6L1670.6,1227.6L1673.1,1227.6L1675.6,1227.6L1678.1,1227.6L1680.6,1227.6L1683.1,1227.6L1685.6,1227.6L1688.0,1227.6L1690.5,1227.6L1693.0,1227.6L1695.5,1227.6L1697.9,1227.6L1700.4,1227.6L1702.9,1227.6L1705.3,1227.6L1707.8,1227.6" stroke="#00FF00" stroke-width="8.3"/>
<path d="M430.6,40.0L430.6,42.5L430.7,45.0L430.7,47.5L430.8,50.0L430.9,52.5L430.9,55.0L431.0,57.5L431.0,60.0L431.1,62.5L431.2,65.0L431.2,67.5L431.3,70.0L431.3,72.5L431.4,75.0L431.5,77.5L431.5,80.0L431.6,82.5L431.6,85.0L431.7,87.5L431.8,90.0L431.8,92.5L431.9,95.0L432.0,97.5L432.0,100.0L432.1,102.5L432.1,105.0L432.2,107.5L432.3,110.0L432.3,112.5L432.4,115.0L432.5,117.5L432.5,120.0L432.6,122.5L432.7,125.0L432.7,127.5L432.8,130.0L432.9,132.5L432.9,135.0L433.0,137.5L433.1,140.0L433.1,142.5L433.2,145.0L433.3,147.5L433.3,150.0L433.4,152.5L433.5,155.0L433.5,157.5L433.6,160.0L433.7,162.5L433.7,165.0L433.8,167.5L433.9,170.0L434.0,172.5L434.0,175.0L434.1,177.5L434.2,180.0L434.2,182.5L434.3,185.0L434.4,187.5L434.4,190.0L434.5,192.5L434.6,195.0L434.7,197.5L434.7,200.0L434.8,202.5L434.9,205.0L435.0,207.5L435.0,210.0L435.1,212.5L435.2,215.0L435.2,217.5L435.3,220.0L435.4,222.5L435.5,225.0L435.5,227.5L435.6,230.0L435.7,232.5L435.8,235.0L435.8,237.5L435.9,239.9L436.0,242.4L436.1,244.9L436.1,247.4L436.2,249.9L436.3,252.4L436.4,254.9L436.5,257.4L436.5,259.9L436.6,262.4L436.7,264.9L436.8,267.4L436.8,269.9L436.9,272.4L437.0,274.9L437.1,277.4L437.2,279.9L437.2,282.4L437.3,284.9L437.4,287.4L437.5,289.9L437.6,292.4L437.6,294.9L437.7,297.4L437.8,299.9L437.9,302.4L438.0,304.9L438.0,307.4L438.1,309.9L438.2,312.4L438.3,314.9L438.4,317.4L438.5,319.9L438.5,322.4L438.6,324.9L438.7,327.4L438.8,329.9L438.9,332.4L439.0,334.9L439.0,337.4L439.1,339.9L439.2,342.4L439.3,344.9L439.4,347.4L439.5,349.9L439.6,352.4L439.6,354.9L439.7,357.3L439.8,359.8L439.9,362.3L440.0,364.8L440.1,367.3L440.2,369.8L440.2,372.3L440.3,374.8L440.4,377.3L440.5,379.8L440.6,382.3L440.7,384.8L440.8,387.3L440.9,389.8L441.0,392.3L441.0,394.8L441.1,397.3L441.2,399.8L441.3,402.3L441.4,404.8L441.5,407.3L441.6,409.8L441.7,412.3L441.8,414.8L441.9,417.3L442.0,419.8L442.1,422.3L442.1,424.8L442.2,427.3L442.3,429.8L442.4,432.3L442.5,434.8L442.6,437.3L442.7,439.8L442.8,442.3L442.9,444.8L443.0,447.3L443.1,449.8L443.2,452.3L443.3,454.8L443.4,457.3L443.5,459.7L443.6,462.2L443.7,464.7L443.8,467.2L443.9,469.7L444.0,472.2L444.1,474.7L444.2,477.2L444.3,479.7L444.3,482.2L444.4,484.7L444.5,487.2L444.6,489.7L444.7,492.2L444.8,494.7L444.9,497.2L445.0,499.7L445.1,502.2L445.2,504.7L445.3,507.2L445.4,509.7L445.6,512.2L445.7,514.7L445.8,517.2L445.9,519.7L446.0,522.2L446.1,524.7L446.2,527.2L446.3,529.7L446.4,532.2L446.5,534.7L446.6,537.2L446.7,539.7L446.8,542.2L446.9,544.7L447.0,547.2L447.1,549.7L447.2,552.2L447.3,554.7L447.4,557.2L447.5,559.7L447.6,562.2L447.7,564.7L447.8,567.2L448.0,569.7L448.1,572.2L448.2,574.7L448.3,577.2L448.4,579.7L448.5,582.2L448.6,584.7L448.7,587.2L448.8,589.7L448.9,592.2L449.0,594.7L449.2,597.2L449.3,599.7L449.4,602.2L449.5,604.7L449.6,607.2L449.7,609.7L449.8,612.2L449.9,614.7L450.0,617.2L450.2,619.7L450.3,622.2L450.4,624.7L450.5,627.2L450.6,629.6L450.7,632.1L450.9,634.6L451.0,637.1L451.1,639.6L451.2,642.1L451.3,644.6L451.4,647.1L451.6,649.6L451.7,652.1L451.8,654.6L451.9,657.1L452.1,659.6L452.2,662.1L452.3,664.6L452.4,667.1L452.6,669.6L452.7,672.1L452.8,674.6L452.9,677.1L453.1,679.6L453.2,682.1L453.3,684.6L453.5,687.1L453.6,689.6L453.7,692.1L453.9,694.6L454.0,697.1L454.2,699.6L454.3,702.1L454.4,704.6L454.6,707.1L454.7,709.6L454.9,712.1L455.0,714.6L455.2,717.1L455.3,719.6L455.4,722.1L455.6,724.6L455.8,727.1L455.9,729.6L456.1,732.1L456.2,734.6L456.4,737.1L456.5,739.6L456.7,742.0L456.9,744.5L457.0,747.0L457.2,749.5L457.3,752.0L457.5,754.5L457.7,757.0L457.9,759.5L458.0,762.0L458.2,764.5L458.4,767.0L458.6,769.5L458.7,772.0L458.9,774.5L459.1,777.0L459.3,779.4L459.5,781.9L459.7,784.4L459.8,786.9L460.0,789.4L460.2,791.9L460.4,794.4L460.6,796.9L460.8,799.4L461.0,801.9L461.2,804.3L461.4,806.8L461.6,809.3L461.8,811.8L462.0,814.3L462.3,816.8L462.5,819.3L462.7,821.8L462.9,824.3L463.1,826.7L463.4,829.2L463.6,831.7L463.8,834.2L464.0,836.7L464.3,839.2L464.5,841.7L464.7,844.1L465.0,846.6L465.2,849.1L465.5,851.6L465.7,854.1L465.9,856.6L466.2,859.0L466.4,861.5L466.7,864.0L467.0,866.5L467.2,869.0L467.5,871.4L467.7,873.9L468.0,876.4L468.3,878.9L468.6,881.4L468.8,883.8L469.1,886.3L469.4,888.8L469.7,891.3L470.0,893.7L470.2,896.2L470.5,898.7L470.8,901.2L471.1,903.7L471.5,906.1L471.8,908.6L472.1,911.1L472.4,913.5L472.7,916.0L473.1,918.5L473.4,921.0L473.7,923.4L474.1,925.9L474.4,928.4L474.8,930.8L475.2,933.3L475.5,935.8L475.9,938.3L476.3,940.7L476.7,943.2L477.1,945.7L477.5,948.1L477.9,950.6L478.3,953.0L478.8,955.5L479.2,958.0L479.6,960.4L480.1,962.9L480.6,965.4L481.0,967.8L481.5,970.3L482.0,972.7L482.5,975.2L483.0,977.6L483.5,980.1L484.1,982.6L484.6,985.0L485.1,987.5L485.7,989.9L486.3,992.4L486.8,994.8L487.4,997.3L488.0,999.7L488.7,1002.2L489.3,1004.6L489.9,1007.1L490.6,1009.5L491.2,1012.0L491.9,1014.4L492.6,1016.9L493.3,1019.3L494.0,1021.7L494.7,1024.2L495.4,1026.6L496.2,1029.1L497.0,1031.5L497.7,1033.9L498.5,1036.3L499.4,1038.7L500.2,1041.1L501.1,1043.5L502.0,1045.9L502.9,1048.2L503.8,1050.5L504.8,1052.9L505.8,1055.1L506.8,1057.4L507.9,1059.7L509.0,1061.9L510.1,1064.1L511.2,1066.3L512.4,1068.4L513.7,1070.5L514.9,1072.6L516.2,1074.6L517.6,1076.6L518.9,1078.6L520.4,1080.6L521.8,1082.5L523.3,1084.3L524.9,1086.1L526.5,1087.9L528.1,1089.6L529.8,1091.3L531.5,1093.0L533.3,1094.5L535.2,1096.1L537.1,1097.6L539.0,1099.0L541.0,1100.4L543.1,1101.7L545.2,1103.0L547.4,1104.2L549.6,1105.3L551.8,1106.4L554.1,1107.5L556.4,1108.5L558.7,1109.4L561.1,1110.3L563.5,1111.1L565.9,1111.9L568.4,1112.6L570.9,1113.2L573.4,1113.8L575.9,1114.4L578.4,1114.8L581.0,1115.3L583.6,1115.6L586.1,1115.9L588.7,1116.2L591.3,1116.3L593.8,1116.5L596.4,1116.5L599.0,1116.5L601.6,1116.5L604.1,1116.3L606.7,1116.2L609.2,1115.9L611.7,1115.6L614.2,1115.2L616.7,1114.8L619.1,1114.3L621.6,1113.8L624.0,1113.2L626.4,1112.5L628.7,1111.8L631.1,1111.0L633.4,1110.2L635.7,1109.3L638.0,1108.5L640.3,1107.6L642.5,1106.6L644.8,1105.7L647.1,1104.7L649.3,1103.8L651.6,1102.8L653.9,1101.8L656.2,1100.8L658.4,1099.9L660.7,1099.0L663.0,1098.0L665.4,1097.1L667.7,1096.3L670.1,1095.5L672.4,1094.7L674.8,1093.9L677.3,1093.2L679.7,1092.6L682.2,1092.0L684.7,1091.5L687.3,1091.0L689.8,1090.5L692.3,1090.0L694.9,1089.6L697.4,1089.1L699.9,1088.6L702.4,1088.1L704.8,1087.5L707.3,1086.9L709.6,1086.2L711.9,1085.4L714.2,1084.5L716.4,1083.5L718.5,1082.4L720.6,1081.2L722.5,1079.8L724.4,1078.4L726.2,1076.8L728.0,1075.1L729.7,1073.3L731.4,1071.5L733.0,1069.6L734.6,1067.6L736.1,1065.6L737.7,1063.6L739.3,1061.5L740.8,1059.5L742.4,1057.4L743.9,1055.3L745.5,1053.3L747.1,1051.3L748.7,1049.3L750.3,1047.3L752.0,1045.4L753.7,1043.5L755.4,1041.7L757.2,1039.9L759.0,1038.2L760.8,1036.6L762.7,1035.0L764.6,1033.5L766.6,1032.0L768.6,1030.7L770.7,1029.4L772.8,1028.3L775.0,1027.2L777.2,1026.2L779.5,1025.2L781.7,1024.3L784.0,1023.3L786.3,1022.3L788.5,1021.2L790.6,1020.0L792.8,1018.7L794.8,1017.2L796.7,1015.5L798.6,1013.7L800.5,1011.9L802.3,1010.0L804.1,1008.1L806.0,1006.2L807.9,1004.3L809.8,1002.6L811.8,1000.9L813.8,999.5L816.0,998.2L818.1,997.1L820.3,996.2L822.4,995.6L824.5,995.3L826.5,995.3L828.5,995.7L830.3,996.3L832.1,997.2L833.8,998.4L835.4,999.8L836.9,1001.4L838.4,1003.2L839.8,1005.2L841.2,1007.3L842.5,1009.6L843.8,1011.9L845.1,1014.3L846.4,1016.7L847.6,1019.2L848.9,1021.6L850.1,1024.1L851.4,1026.5L852.6,1028.9L853.8,1031.3L855.1,1033.7L856.4,1036.0L857.6,1038.4L858.9,1040.6L860.2,1042.9L861.6,1045.1L862.9,1047.3L864.3,1049.4L865.7,1051.5L867.2,1053.5L868.7,1055.4L870.2,1057.3L871.8,1059.2L873.4,1060.9L875.0,1062.6L876.8,1064.2L878.5,1065.8L880.4,1067.2L882.2,1068.6L884.2,1069.9L886.2,1071.1L888.3,1072.2L890.4,1073.1L892.6,1074.0L894.9,1074.9L897.2,1075.6L899.6,1076.3L902.0,1076.9L904.4,1077.4L906.9,1077.8L909.4,1078.2L912.0,1078.6L914.6,1078.9L917.1,1079.2L919.7,1079.4L922.3,1079.6L925.0,1079.7L927.6,1079.8L930.2,1079.9L932.8,1080.0L935.4,1080.1L938.0,1080.2L940.5,1080.2L943.0,1080.3L945.6,1080.3L948.1,1080.4L950.5,1080.5L953.0,1080.5L955.5,1080.5L957.9,1080.6L960.4,1080.6L962.8,1080.6L965.2,1080.6L967.7,1080.7L970.1,1080.6L972.5,1080.6L975.0,1080.6L977.5,1080.6L979.9,1080.5L982.4,1080.4L984.9,1080.4L987.4,1080.3L989.8,1080.2L992.3,1080.1L994.8,1080.0L997.3,1079.9L999.9,1079.8L1002.4,1079.6L1004.9,1079.5L1007.4,1079.4L1009.9,1079.2L1012.5,1079.1L1015.0,1079.0L1017.5,1078.8L1020.0,1078.7L1022.6,1078.5L1025.1,1078.4L1027.6,1078.3L1030.1,1078.1L1032.6,1078.0L1035.2,1077.9L1037.7,1077.8L1040.2,1077.7L1042.7,1077.5L1045.2,1077.4L1047.7,1077.3L1050.2,1077.3L1052.7,1077.2L1055.1,1077.1L1057.6,1077.1L1060.1,1077.0L1062.5,1077.0L1065.0,1077.0L1067.4,1077.0L1069.9,1077.1L1072.3,1077.1L1074.7,1077.2L1077.1,1077.4L1079.6,1077.6L1082.0,1077.8L1084.4,1078.1L1086.8,1078.4L1089.2,1078.8L1091.6,1079.3L1093.9,1079.8L1096.3,1080.4L1098.7,1081.0L1101.1,1081.7L1103.5,1082.4L1105.9,1083.2L1108.2,1084.0L1110.6,1084.8L1113.0,1085.7L1115.4,1086.5L1117.8,1087.3L1120.2,1088.1L1122.6,1088.9L1125.1,1089.7L1127.5,1090.5L1130.0,1091.2L1132.4,1091.8L1134.9,1092.5L1137.4,1093.1L1139.8,1093.7L1142.3,1094.3L1144.7,1094.9L1147.2,1095.5L1149.6,1096.2L1152.0,1096.8L1154.5,1097.4L1156.8,1098.1L1159.2,1098.8L1161.5,1099.5L1163.8,1100.3L1166.1,1101.1L1168.3,1102.0L1170.5,1102.9L1172.7,1103.9L1174.8,1105.0L1176.8,1106.1L1178.8,1107.3L1180.8,1108.6L1182.7,1110.0L1184.5,1111.4L1186.4,1112.9L1188.1,1114.5L1189.9,1116.2L1191.6,1117.9L1193.2,1119.7L1194.8,1121.5L1196.4,1123.4L1198.0,1125.3L1199.5,1127.3L1201.0,1129.3L1202.5,1131.3L1203.9,1133.4L1205.4,1135.5L1206.8,1137.6L1208.2,1139.8L1209.6,1142.0L1211.0,1144.2L1212.4,1146.4L1213.7,1148.6L1215.1,1150.8L1216.5,1153.1L1217.8,1155.3L1219.2,1157.5L1220.6,1159.8L1222.0,1162.0L1223.4,1164.2L1224.8,1166.3L1226.2,1168.5L1227.6,1170.6L1229.1,1172.7L1230.5,1174.8L1232.0,1176.8L1233.5,1178.8L1235.1,1180.8L1236.7,1182.7L1238.3,1184.6L1239.9,1186.4L1241.6,1188.2L1243.3,1189.9L1245.1,1191.5L1246.9,1193.1L1248.7,1194.6L1250.6,1196.0L1252.5,1197.4L1254.5,1198.7L1256.5,1199.9L1258.6,1201.1L1260.6,1202.2L1262.8,1203.3L1264.9,1204.3L1267.1,1205.2L1269.3,1206.1L1271.6,1207.0L1273.9,1207.8L1276.2,1208.5L1278.5,1209.3L1280.9,1209.9L1283.3,1210.6L1285.7,1211.2L1288.1,1211.7L1290.5,1212.2L1293.0,1212.7L1295.5,1213.2L1298.0,1213.6L1300.5,1214.0L1303.0,1214.4L1305.5,1214.7L1308.1,1215.1L1310.6,1215.4L1313.2,1215.7L1315.7,1215.9L1318.3,1216.2L1320.9,1216.4L1323.4,1216.7L1326.0,1216.9L1328.6,1217.1L1331.1,1217.3L1333.7,1217.6L1336.2,1217.8L1338.8,1218.0L1341.3,1218.2L1343.9,1218.4L1346.4,1218.6L1348.9,1218.8L1351.5,1219.0L1354.0,1219.1L1356.5,1219.3L1359.1,1219.5L1361.6,1219.7L1364.1,1219.9L1366.6,1220.0L1369.1,1220.2L1371.6,1220.4L1374.2,1220.5L1376.7,1220.7L1379.2,1220.8L1381.7,1221.0L1384.2,1221.1L1386.7,1221.3L1389.2,1221.4L1391.7,1221.6L1394.1,1221.7L1396.6,1221.8L1399.1,1222.0L1401.6,1222.1L1404.1,1222.2L1406.6,1222.3L1409.1,1222.5L1411.6,1222.6L1414.0,1222.7L1416.5,1222.8L1419.0,1222.9L1421.5,1223.0L1424.0,1223.2L1426.4,1223.3L1428.9,1223.4L1431.4,1223.5L1433.9,1223.6L1436.3,1223.7L1438.8,1223.8L1441.3,1223.9L1443.8,1224.0L1446.2,1224.1L1448.7,1224.2L1451.2,1224.2L1453.7,1224.3L1456.1,1224.4L1458.6,1224.5L1461.1,1224.6L1463.6,1224.7L1466.1,1224.8L1468.5,1224.8L1471.0,1224.9L1473.5,1225.0L1476.0,1225.1L1478.5,1225.2L1480.9,1225.2L1483.4,1225.3L1485.9,1225.4L1488.4,1225.5L1490.9,1225.5L1493.4,1225.6L1495.9,1225.7L1498.4,1225.8L1500.8,1225.8L1503.3,1225.9L1505.8,1226.0L1508.3,1226.0L1510.8,1226.1L1513.3,1226.2L1515.8,1226.2L1518.3,1226.3L1520.8,1226.4L1523.3,1226.4L1525.8,1226.5L1528.3,1226.6L1530.8,1226.6L1533.3,1226.7L1535.8,1226.7L1538.3,1226.8L1540.8,1226.9L1543.3,1226.9L1545.8,1227.0L1548.3,1227.0L1550.8,1227.1L1553.3,1227.2L1555.9,1227.2L1558.4,1227.3L1560.9,1227.3L1563.4,1227.4L1565.9,1227.4L1568.4,1227.5L1570.9,1227.5L1573.4,1227.6L1575.9,1227.6L1578.4,1227.7L1580.9,1227.7L1583.4,1227.8L1585.9,1227.8L1588.5,1227.9L1591.0,1227.9L1593.5,1228.0L1596.0,1228.0L1598.5,1228.1L1601.0,1228.1L1603.5,1228.2L1606.0,1228.2L1608.5,1228.2L1611.0,1228.3L1613.5,1228.3L1616.1,1228.4L1618.6,1228.4L1621.1,1228.5L1623.6,1228.5L1626.1,1228.6L1628.6,1228.6L1631.1,1228.6L1633.6,1228.7L1636.1,1228.7L1638.6,1228.8L1641.1,1228.8L1643.6,1228.8L1646.1,1228.9L1648.6,1228.9L1651.1,1229.0L1653.7,1229.0L1656.2,1229.0L1658.7,1229.1L1661.2,1229.1L1663.7,1229.2L1666.2,1229.2L1668.7,1229.2L1671.2,1229.3L1673.7,1229.3L1676.2,1229.3L1678.7,1229.4L1681.2,1229.4L1683.7,1229.4L1686.2,1229.5L1688.6,1229.5L1691.1,1229.6L1693.6,1229.6L1696.1,1229.6L1698.6,1229.7L1701.1,1229.7L1703.6,1229.7L1706.1,1229.8L1708.6,1229.8L1711.1,1229.8L1713.6,1229.9L1716.0,1229.9L1718.5,1230.0L1721.0,1230.0L1723.5,1230.0L1726.0,1230.1L1728.4,1230.1L1730.9,1230.1L1733.4,1230.2L1735.9,1230.2L1738.4,1230.2L1740.8,1230.3L1743.3,1230.3L1745.8,1230.4" stroke="#FFCC00" stroke-width="8.3"/>
<path d="M443.4,40.0L443.4,42.5L443.4,45.0L443.5,47.5L443.5,50.0L443.6,52.5L443.6,55.0L443.7,57.5L443.7,60.0L443.8,62.5L443.8,65.0L443.9,67.5L443.9,70.0L444.0,72.5L444.0,75.0L444.1,77.5L444.2,80.0L444.2,82.5L444.3,85.0L444.3,87.5L444.4,90.0L444.5,92.5L444.5,95.0L444.6,97.5L444.6,100.0L444.7,102.5L444.8,105.0L444.8,107.5L444.9,110.0L445.0,112.5L445.0,115.0L445.1,117.5L445.2,120.0L445.2,122.5L445.3,125.0L445.4,127.5L445.5,130.0L445.5,132.4L445.6,134.9L445.7,137.4L445.7,139.9L445.8,142.4L445.9,144.9L446.0,147.4L446.1,149.9L446.1,152.4L446.2,154.9L446.3,157.4L446.4,159.9L446.5,162.4L446.5,164.9L446.6,167.4L446.7,169.9L446.8,172.4L446.9,174.9L447.0,177.4L447.1,179.9L447.1,182.4L447.2,184.9L447.3,187.4L447.4,189.9L447.5,192.4L447.6,194.9L447.7,197.4L447.8,199.9L447.9,202.4L448.0,204.9L448.1,207.4L448.2,209.9L448.3,212.4L448.4,214.9L448.5,217.4L448.6,219.9L448.7,222.4L448.8,224.9L448.9,227.4L449.0,229.9L449.1,232.4L449.2,234.9L449.3,237.4L449.4,239.9L449.5,242.4L449.6,244.9L449.7,247.4L449.8,249.9L450.0,252.3L450.1,254.8L450.2,257.3L450.3,259.8L450.4,262.3L450.5,264.8L450.6,267.3L450.8,269.8L450.9,272.3L451.0,274.8L451.1,277.3L451.2,279.8L451.3,282.3L451.5,284.8L451.6,287.3L451.7,289.8L451.8,292.3L452.0,294.8L452.1,297.3L452.2,299.8L452.3,302.3L452.5,304.8L452.6,307.3L452.7,309.8L452.9,312.3L453.0,314.8L453.1,317.3L453.2,319.8L453.4,322.3L453.5,324.8L453.6,327.2L453.8,329.7L453.9,332.2L454.1,334.7L454.2,337.2L454.3,339.7L454.5,342.2L454.6,344.7L454.8,347.2L454.9,349.7L455.0,352.2L455.2,354.7L455.3,357.2L455.5,359.7L455.6,362.2L455.8,364.7L455.9,367.2L456.1,369.7L456.2,372.2L456.4,374.7L456.5,377.2L456.7,379.7L456.8,382.2L457.0,384.6L457.1,387.1L457.3,389.6L457.4,392.1L457.6,394.6L457.7,397.1L457.9,399.6L458.0,402.1L458.2,404.6L458.4,407.1L458.5,409.6L458.7,412.1L458.9,414.6L459.0,417.1L459.2,419.6L459.3,422.1L459.5,424.6L459.7,427.1L459.8,429.6L460.0,432.0L460.2,434.5L460.3,437.0L460.5,439.5L460.7,442.0L460.9,444.5L461.0,447.0L461.2,449.5L461.4,452.0L461.6,454.5L461.7,457.0L461.9,459.5L462.1,462.0L462.3,464.5L462.4,467.0L462.6,469.4L462.8,471.9L463.0,474.4L463.2,476.9L463.3,479.4L463.5,481.9L463.7,484.4L463.9,486.9L464.1,489.4L464.3,491.9L464.5,494.4L464.6,496.9L464.8,499.4L465.0,501.9L465.2,504.3L465.4,506.8L465.6,509.3L465.8,511.8L466.0,514.3L466.2,516.8L466.4,519.3L466.6,521.8L466.8,524.3L467.0,526.8L467.2,529.3L467.4,531.8L467.6,534.3L467.8,536.7L468.0,539.2L468.2,541.7L468.4,544.2L468.6,546.7L468.8,549.2L469.0,551.7L469.2,554.2L469.4,556.7L469.6,559.2L469.8,561.7L470.0,564.1L470.2,566.6L470.4,569.1L470.6,571.6L470.9,574.1L471.1,576.6L471.3,579.1L471.5,581.6L471.7,584.1L471.9,586.6L472.1,589.0L472.4,591.5L472.6,594.0L472.8,596.5L473.0,599.0L473.2,601.5L473.5,604.0L473.7,606.5L473.9,609.0L474.1,611.5L474.4,613.9L474.6,616.4L474.8,618.9L475.0,621.4L475.3,623.9L475.5,626.4L475.7,628.9L476.0,631.4L476.2,633.9L476.4,636.3L476.7,638.8L476.9,641.3L477.1,643.8L477.4,646.3L477.6,648.8L477.9,651.3L478.1,653.8L478.4,656.2L478.6,658.7L478.9,661.2L479.1,663.7L479.4,666.2L479.6,668.7L479.9,671.2L480.1,673.6L480.4,676.1L480.7,678.6L480.9,681.1L481.2,683.6L481.5,686.1L481.7,688.5L482.0,691.0L482.3,693.5L482.6,696.0L482.8,698.5L483.1,701.0L483.4,703.4L483.7,705.9L484.0,708.4L484.3,710.9L484.5,713.4L484.8,715.8L485.1,718.3L485.4,720.8L485.7,723.3L486.0,725.8L486.4,728.2L486.7,730.7L487.0,733.2L487.3,735.7L487.6,738.1L487.9,740.6L488.3,743.1L488.6,745.6L488.9,748.0L489.2,750.5L489.6,753.0L489.9,755.5L490.3,757.9L490.6,760.4L490.9,762.9L491.3,765.4L491.6,767.8L492.0,770.3L492.4,772.8L492.7,775.2L493.1,777.7L493.5,780.2L493.8,782.7L494.2,785.1L494.6,787.6L495.0,790.1L495.4,792.5L495.8,795.0L496.1,797.5L496.5,799.9L496.9,802.4L497.4,804.9L497.8,807.3L498.2,809.8L498.6,812.2L499.0,814.7L499.4,817.2L499.9,819.6L500.3,822.1L500.7,824.5L501.2,827.0L501.6,829.5L502.1,831.9L502.5,834.4L503.0,836.8L503.4,839.3L503.9,841.7L504.4,844.2L504.8,846.7L505.3,849.1L505.8,851.6L506.3,854.0L506.8,856.5L507.3,858.9L507.8,861.4L508.3,863.8L508.8,866.3L509.3,868.7L509.8,871.2L510.3,873.6L510.9,876.0L511.4,878.5L511.9,880.9L512.5,883.4L513.0,885.8L513.6,888.3L514.1,890.7L514.7,893.1L515.3,895.6L515.8,898.0L516.4,900.5L517.0,902.9L517.6,905.3L518.2,907.8L518.8,910.2L519.4,912.6L520.0,915.1L520.6,917.5L521.2,919.9L521.8,922.4L522.5,924.8L523.1,927.2L523.7,929.7L524.4,932.1L525.0,934.5L525.7,936.9L526.3,939.4L527.0,941.8L527.7,944.2L528.4,946.6L529.1,949.1L529.8,951.5L530.5,953.9L531.2,956.3L531.9,958.7L532.6,961.1L533.4,963.5L534.1,965.9L534.9,968.3L535.7,970.7L536.5,973.1L537.3,975.4L538.1,977.8L538.9,980.2L539.8,982.5L540.7,984.8L541.5,987.2L542.4,989.5L543.4,991.8L544.3,994.1L545.3,996.4L546.2,998.7L547.2,1001.0L548.2,1003.2L549.3,1005.5L550.3,1007.7L551.4,1009.9L552.5,1012.1L553.7,1014.3L554.8,1016.5L556.0,1018.7L557.2,1020.8L558.5,1022.9L559.7,1025.1L561.0,1027.2L562.3,1029.2L563.7,1031.3L565.0,1033.4L566.4,1035.4L567.9,1037.4L569.3,1039.4L570.8,1041.4L572.4,1043.3L573.9,1045.3L575.5,1047.1L577.2,1049.0L578.9,1050.7L580.7,1052.4L582.6,1053.9L584.5,1055.4L586.5,1056.7L588.6,1057.9L590.8,1059.0L593.2,1059.8L595.5,1060.6L598.0,1061.2L600.5,1061.6L603.1,1061.9L605.7,1062.1L608.3,1062.2L610.9,1062.1L613.6,1062.0L616.2,1061.7L618.8,1061.3L621.3,1060.8L623.8,1060.3L626.2,1059.7L628.7,1058.9L631.0,1058.1L633.4,1057.3L635.7,1056.4L638.0,1055.4L640.2,1054.4L642.5,1053.4L644.7,1052.3L646.9,1051.2L649.2,1050.1L651.4,1049.0L653.6,1047.8L655.8,1046.7L658.0,1045.5L660.2,1044.4L662.4,1043.3L664.7,1042.2L666.9,1041.1L669.2,1040.1L671.5,1039.0L673.7,1038.0L676.0,1036.9L678.3,1035.9L680.6,1034.8L682.8,1033.8L685.1,1032.7L687.4,1031.6L689.6,1030.6L691.9,1029.5L694.1,1028.4L696.4,1027.3L698.6,1026.1L700.8,1025.0L703.0,1023.8L705.2,1022.6L707.4,1021.4L709.5,1020.1L711.6,1018.8L713.7,1017.5L715.7,1016.1L717.7,1014.7L719.6,1013.2L721.6,1011.7L723.4,1010.2L725.2,1008.6L727.0,1006.9L728.7,1005.2L730.3,1003.4L731.9,1001.5L733.4,999.6L734.8,997.7L736.2,995.6L737.4,993.5L738.7,991.3L739.8,989.0L740.9,986.7L741.9,984.4L742.9,982.0L743.9,979.6L744.8,977.1L745.7,974.7L746.5,972.2L747.4,969.7L748.3,967.2L749.1,964.7L750.0,962.2L750.9,959.8L751.8,957.3L752.7,954.9L753.6,952.6L754.6,950.2L755.7,948.0L756.8,945.8L757.9,943.6L759.1,941.5L760.4,939.5L761.7,937.5L763.0,935.5L764.4,933.6L765.8,931.7L767.3,929.8L768.8,928.0L770.3,926.2L771.9,924.4L773.5,922.6L775.0,920.8L776.7,919.0L778.3,917.2L779.9,915.3L781.6,913.5L783.2,911.6L784.9,909.8L786.6,907.8L788.2,905.9L789.9,903.9L791.5,901.9L793.1,899.8L794.7,897.6L796.3,895.4L797.9,893.1L799.5,890.8L801.0,888.4L802.5,886.1L804.1,883.7L805.6,881.4L807.1,879.2L808.7,877.0L810.2,875.0L811.8,873.1L813.5,871.3L815.1,869.8L816.8,868.4L818.5,867.3L820.2,866.5L821.9,865.9L823.5,865.7L825.2,865.7L826.8,866.2L828.4,866.9L830.0,867.9L831.5,869.2L833.0,870.7L834.4,872.4L835.8,874.3L837.1,876.3L838.4,878.5L839.6,880.8L840.8,883.2L841.9,885.6L842.9,888.0L843.9,890.5L844.7,892.9L845.6,895.3L846.4,897.8L847.1,900.2L847.8,902.6L848.5,905.0L849.1,907.4L849.8,909.8L850.4,912.3L851.1,914.7L851.7,917.1L852.4,919.6L853.1,922.0L853.9,924.5L854.7,927.0L855.5,929.4L856.4,931.9L857.3,934.4L858.3,936.8L859.3,939.3L860.3,941.7L861.4,944.1L862.5,946.4L863.7,948.8L864.9,951.0L866.2,953.3L867.6,955.5L869.0,957.6L870.4,959.7L871.9,961.7L873.4,963.6L875.0,965.5L876.7,967.3L878.4,969.0L880.2,970.6L882.0,972.1L884.0,973.5L885.9,974.8L888.0,976.0L890.0,977.1L892.2,978.1L894.4,979.0L896.7,979.8L899.0,980.4L901.4,981.0L903.8,981.5L906.3,982.0L908.7,982.4L911.2,982.7L913.7,982.9L916.3,983.1L918.8,983.3L921.3,983.5L923.8,983.6L926.4,983.7L928.9,983.7L931.4,983.8L933.9,983.8L936.5,983.8L939.0,983.8L941.5,983.8L944.0,983.7L946.5,983.7L949.0,983.6L951.5,983.5L954.0,983.4L956.5,983.3L959.1,983.2L961.6,983.1L964.1,983.0L966.6,982.8L969.1,982.7L971.6,982.6L974.0,982.5L976.5,982.4L979.0,982.2L981.5,982.1L984.0,982.0L986.5,981.9L989.0,981.9L991.5,981.8L993.9,981.7L996.4,981.7L998.9,981.7L1001.4,981.7L1003.8,981.7L1006.3,981.7L1008.8,981.8L1011.2,981.8L1013.7,981.9L1016.2,982.0L1018.7,982.0L1021.1,982.1L1023.6,982.1L1026.1,982.2L1028.6,982.2L1031.0,982.2L1033.5,982.2L1036.0,982.2L1038.5,982.2L1041.0,982.1L1043.5,982.0L1046.0,981.8L1048.5,981.6L1051.1,981.4L1053.6,981.1L1056.1,980.8L1058.7,980.4L1061.3,980.0L1063.8,979.5L1066.4,979.0L1068.9,978.5L1071.5,978.1L1074.0,977.7L1076.5,977.5L1078.9,977.4L1081.3,977.5L1083.6,977.8L1085.9,978.3L1088.2,978.9L1090.4,979.7L1092.5,980.6L1094.6,981.7L1096.7,982.9L1098.8,984.2L1100.8,985.6L1102.8,987.0L1104.8,988.6L1106.8,990.2L1108.7,991.8L1110.7,993.5L1112.6,995.2L1114.5,996.9L1116.5,998.6L1118.4,1000.3L1120.3,1001.9L1122.2,1003.5L1124.2,1005.1L1126.2,1006.6L1128.2,1008.0L1130.2,1009.4L1132.3,1010.7L1134.4,1011.9L1136.6,1013.0L1138.9,1014.1L1141.2,1015.0L1143.6,1015.9L1146.0,1016.6L1148.5,1017.4L1151.0,1018.1L1153.5,1018.9L1155.9,1019.6L1158.2,1020.5L1160.5,1021.4L1162.7,1022.5L1164.8,1023.6L1166.8,1024.9L1168.7,1026.3L1170.5,1027.8L1172.2,1029.3L1173.8,1031.0L1175.4,1032.7L1176.9,1034.5L1178.3,1036.4L1179.7,1038.4L1181.0,1040.4L1182.2,1042.5L1183.4,1044.6L1184.6,1046.8L1185.7,1049.0L1186.8,1051.3L1187.9,1053.6L1188.9,1055.9L1189.9,1058.2L1190.9,1060.6L1191.9,1062.9L1192.9,1065.3L1193.8,1067.7L1194.8,1070.1L1195.7,1072.4L1196.7,1074.8L1197.7,1077.1L1198.7,1079.5L1199.7,1081.8L1200.6,1084.1L1201.6,1086.4L1202.6,1088.7L1203.6,1091.0L1204.6,1093.3L1205.6,1095.6L1206.6,1097.9L1207.6,1100.2L1208.6,1102.5L1209.6,1104.8L1210.6,1107.0L1211.6,1109.3L1212.5,1111.6L1213.5,1113.9L1214.5,1116.1L1215.4,1118.4L1216.4,1120.7L1217.3,1123.0L1218.3,1125.3L1219.2,1127.6L1220.1,1129.9L1221.0,1132.2L1221.9,1134.5L1222.8,1136.9L1223.7,1139.2L1224.6,1141.5L1225.5,1143.8L1226.4,1146.1L1227.4,1148.4L1228.3,1150.7L1229.3,1153.0L1230.3,1155.3L1231.4,1157.6L1232.4,1159.8L1233.5,1162.1L1234.6,1164.3L1235.8,1166.5L1237.0,1168.7L1238.3,1170.9L1239.6,1173.0L1241.0,1175.2L1242.4,1177.3L1243.8,1179.4L1245.3,1181.4L1246.9,1183.4L1248.5,1185.4L1250.2,1187.4L1251.9,1189.2L1253.6,1191.1L1255.4,1192.9L1257.2,1194.6L1259.1,1196.3L1261.0,1197.9L1263.0,1199.5L1265.0,1200.9L1267.0,1202.3L1269.1,1203.7L1271.2,1204.9L1273.3,1206.1L1275.5,1207.2L1277.7,1208.2L1280.0,1209.2L1282.2,1210.1L1284.5,1210.9L1286.9,1211.7L1289.2,1212.4L1291.6,1213.0L1294.0,1213.6L1296.4,1214.2L1298.9,1214.7L1301.3,1215.2L1303.8,1215.6L1306.2,1216.0L1308.7,1216.4L1311.2,1216.8L1313.7,1217.1L1316.2,1217.5L1318.7,1217.8L1321.2,1218.1L1323.7,1218.4L1326.3,1218.7L1328.8,1218.9L1331.3,1219.2L1333.8,1219.5L1336.3,1219.7L1338.8,1220.0L1341.3,1220.3L1343.8,1220.5L1346.3,1220.7L1348.8,1221.0L1351.3,1221.2L1353.8,1221.4L1356.3,1221.6L1358.8,1221.9L1361.3,1222.1L1363.8,1222.3L1366.3,1222.5L1368.8,1222.7L1371.3,1222.8L1373.8,1223.0L1376.3,1223.2L1378.8,1223.4L1381.3,1223.6L1383.8,1223.7L1386.3,1223.9L1388.8,1224.0L1391.3,1224.2L1393.7,1224.3L1396.2,1224.5L1398.7,1224.6L1401.2,1224.8L1403.7,1224.9L1406.2,1225.0L1408.7,1225.2L1411.2,1225.3L1413.7,1225.4L1416.2,1225.5L1418.7,1225.7L1421.2,1225.8L1423.7,1225.9L1426.2,1226.0L1428.7,1226.1L1431.2,1226.2L1433.7,1226.3L1436.2,1226.4L1438.6,1226.5L1441.1,1226.6L1443.6,1226.7L1446.1,1226.8L1448.6,1226.9L1451.1,1227.0L1453.6,1227.0L1456.1,1227.1L1458.6,1227.2L1461.1,1227.3L1463.6,1227.4L1466.1,1227.4L1468.6,1227.5L1471.1,1227.6L1473.6,1227.7L1476.1,1227.8L1478.6,1227.8L1481.1,1227.9L1483.5,1228.0L1486.0,1228.0L1488.5,1228.1L1491.0,1228.2L1493.5,1228.3L1496.0,1228.3L1498.5,1228.4L1501.0,1228.5L1503.5,1228.5L1506.0,1228.6L1508.5,1228.7L1511.0,1228.7L1513.5,1228.8L1516.0,1228.9L1518.5,1228.9L1521.0,1229.0L1523.5,1229.0L1526.0,1229.1L1528.5,1229.2L1531.0,1229.2L1533.5,1229.3L1536.0,1229.3L1538.5,1229.4L1541.0,1229.4L1543.5,1229.5L1546.0,1229.6L1548.5,1229.6L1551.0,1229.7L1553.5,1229.7L1556.0,1229.8L1558.5,1229.8L1561.0,1229.9L1563.5,1229.9L1566.0,1230.0L1568.5,1230.0L1571.0,1230.1L1573.5,1230.1L1576.0,1230.2L1578.5,1230.2L1581.0,1230.3L1583.5,1230.3L1586.0,1230.4L1588.5,1230.4L1591.0,1230.5L1593.5,1230.5L1596.0,1230.5L1598.5,1230.6L1601.0,1230.6L1603.5,1230.7L1606.0,1230.7L1608.5,1230.7L1611.0,1230.8L1613.5,1230.8L1616.0,1230.9L1618.5,1230.9L1621.0,1230.9L1623.5,1231.0L1626.0,1231.0L1628.5,1231.0L1631.0,1231.1L1633.5,1231.1L1636.0,1231.1L1638.5,1231.2L1641.0,1231.2L1643.5,1231.2L1646.0,1231.3L1648.5,1231.3L1651.0,1231.3L1653.5,1231.4L1656.0,1231.4L1658.5,1231.4L1661.0,1231.5L1663.5,1231.5L1666.0,1231.5L1668.5,1231.5L1671.0,1231.6L1673.5,1231.6L1676.0,1231.6L1678.5,1231.7L1681.0,1231.7L1683.5,1231.7L1686.0,1231.7L1688.5,1231.7L1691.0,1231.8L1693.5,1231.8L1696.0,1231.8L1698.5,1231.8L1701.0,1231.9L1703.5,1231.9L1706.0,1231.9L1708.5,1231.9L1711.0,1231.9L1713.5,1232.0L1716.0,1232.0L1718.5,1232.0L1721.0,1232.0L1723.5,1232.0L1726.0,1232.0L1728.5,1232.1L1731.0,1232.1L1733.5,1232.1L1736.0,1232.1L1738.5,1232.1L1741.0,1232.1L1743.5,1232.2L1746.0,1232.2" stroke="#FF3800" stroke-width="8.3"/>
</g>
<line x1="533.0" y1="662.0" x2="558.1" y2="585.5" stroke="#000" stroke-width="5"/><path d="M567.5,557.0 L565.9,592.3 L557.2,588.3 L547.9,586.3 Z" fill="#000"/>
<line x1="590.0" y1="775.5" x2="617.0" y2="775.5" stroke="#000" stroke-width="5"/><path d="M648.0,775.5 L613.0,784.5 L614.0,775.5 L613.0,766.5 Z" fill="#000"/>
<line x1="1096.5" y1="832.0" x2="1096.5" y2="779.5" stroke="#000" stroke-width="5"/><path d="M1096.5,748.5 L1106.2,783.5 L1096.5,782.5 L1086.8,783.5 Z" fill="#000"/>
<line x1="1150.0" y1="905.0" x2="1197.3" y2="824.2" stroke="#000" stroke-width="5"/><path d="M1213.0,797.5 L1203.5,832.5 L1195.8,826.8 L1187.1,822.9 Z" fill="#000"/>
<line x1="1187.4" y1="1058.4" x2="1280.0" y2="1018.3" stroke="#000" stroke-width="5"/><path d="M1309.4,1005.6 L1280.1,1028.6 L1277.4,1019.5 L1272.6,1011.2 Z" fill="#000"/>
<line x1="1178.7" y1="1106.2" x2="1341.9" y2="1080.6" stroke="#000" stroke-width="5"/><path d="M1372.5,1075.8 L1339.3,1090.1 L1339.0,1081.1 L1336.5,1072.3 Z" fill="#000"/>
<text x="242.5" y="71.3" font-family="&quot;Liberation Serif&quot;, serif" font-weight="bold" font-size="62" text-anchor="end">1.5</text>
<text x="242.5" y="464.6" font-family="&quot;Liberation Serif&quot;, serif" font-weight="bold" font-size="62" text-anchor="end">1.0</text>
<text x="242.5" y="858.0" font-family="&quot;Liberation Serif&quot;, serif" font-weight="bold" font-size="62" text-anchor="end">0.5</text>
<text x="242.5" y="1251.3" font-family="&quot;Liberation Serif&quot;, serif" font-weight="bold" font-size="62" text-anchor="end">0.0</text>
<text x="280.3" y="1321" font-family="&quot;Liberation Serif&quot;, serif" font-weight="bold" font-size="62" text-anchor="middle">200</text>
<text x="547.1" y="1321" font-family="&quot;Liberation Serif&quot;, serif" font-weight="bold" font-size="62" text-anchor="middle">240</text>
<text x="813.8" y="1321" font-family="&quot;Liberation Serif&quot;, serif" font-weight="bold" font-size="62" text-anchor="middle">280</text>
<text x="1080.6" y="1321" font-family="&quot;Liberation Serif&quot;, serif" font-weight="bold" font-size="62" text-anchor="middle">320</text>
<text x="1347.3" y="1321" font-family="&quot;Liberation Serif&quot;, serif" font-weight="bold" font-size="62" text-anchor="middle">360</text>
<text x="1614.1" y="1321" font-family="&quot;Liberation Serif&quot;, serif" font-weight="bold" font-size="62" text-anchor="middle">400</text>
<text transform="translate(89.5,602.8) rotate(-90)" font-family="&quot;Liberation Serif&quot;, serif" font-weight="bold" font-size="78.2" text-anchor="middle">Absorbance</text>
<text x="739" y="1438.6" font-family="&quot;Liberation Serif&quot;, serif" font-weight="bold" font-size="77" letter-spacing="1.1">Wavelength<tspan x="1139.5" font-weight="normal" font-size="63" letter-spacing="0">(</tspan><tspan x="1160">nm</tspan><tspan x="1267" font-weight="normal" font-size="63" letter-spacing="0">)</tspan></text>
<text x="561.2" y="537.0" font-family="&quot;Liberation Serif&quot;, serif" font-weight="bold" font-size="72">2</text>
<text x="650.5" y="802.2" font-family="&quot;Liberation Serif&quot;, serif" font-weight="bold" font-size="74">1</text>
<text x="1082.0" y="734.6" font-family="&quot;Liberation Serif&quot;, serif" font-weight="bold" font-size="65">4</text>
<text x="1205.0" y="790.6" font-family="&quot;Liberation Serif&quot;, serif" font-weight="bold" font-size="72">3</text>
<text x="1314.0" y="1019.5" font-family="&quot;Liberation Serif&quot;, serif" font-weight="bold" font-size="88">6</text>
<text x="1382.8" y="1102.2" font-family="&quot;Liberation Serif&quot;, serif" font-weight="bold" font-size="72">5</text>
<rect x="1410.3" y="91" width="2.5" height="463.6" fill="#000"/>
<rect x="1609.3" y="91" width="2.4" height="463" fill="#666"/>
<rect x="1412" y="552.2" width="198" height="2.3" fill="#d6dfd2"/>
<rect x="1415.7" y="129.1" width="144.8" height="7.8" fill="#000000"/>
<text x="1587.5" y="153.3" font-family="&quot;Liberation Serif&quot;, serif" font-size="61" text-anchor="middle">1</text>
<rect x="1415.7" y="205.6" width="144.8" height="7.8" fill="#0050FF"/>
<text x="1587.5" y="229.8" font-family="&quot;Liberation Serif&quot;, serif" font-size="61" text-anchor="middle">2</text>
<rect x="1415.7" y="280.6" width="144.8" height="7.8" fill="#00FFFF"/>
<text x="1587.5" y="304.8" font-family="&quot;Liberation Serif&quot;, serif" font-size="61" text-anchor="middle">3</text>
<rect x="1415.7" y="355.6" width="144.8" height="7.8" fill="#00FF00"/>
<text x="1587.5" y="379.8" font-family="&quot;Liberation Serif&quot;, serif" font-size="61" text-anchor="middle">4</text>
<rect x="1415.7" y="432.1" width="144.8" height="7.8" fill="#FFCC00"/>
<text x="1587.5" y="456.3" font-family="&quot;Liberation Serif&quot;, serif" font-size="61" text-anchor="middle">5</text>
<rect x="1415.7" y="507.1" width="144.8" height="7.8" fill="#FF3800"/>
<text x="1587.5" y="531.3" font-family="&quot;Liberation Serif&quot;, serif" font-size="61" text-anchor="middle">6</text>
</svg>
</body></html>
